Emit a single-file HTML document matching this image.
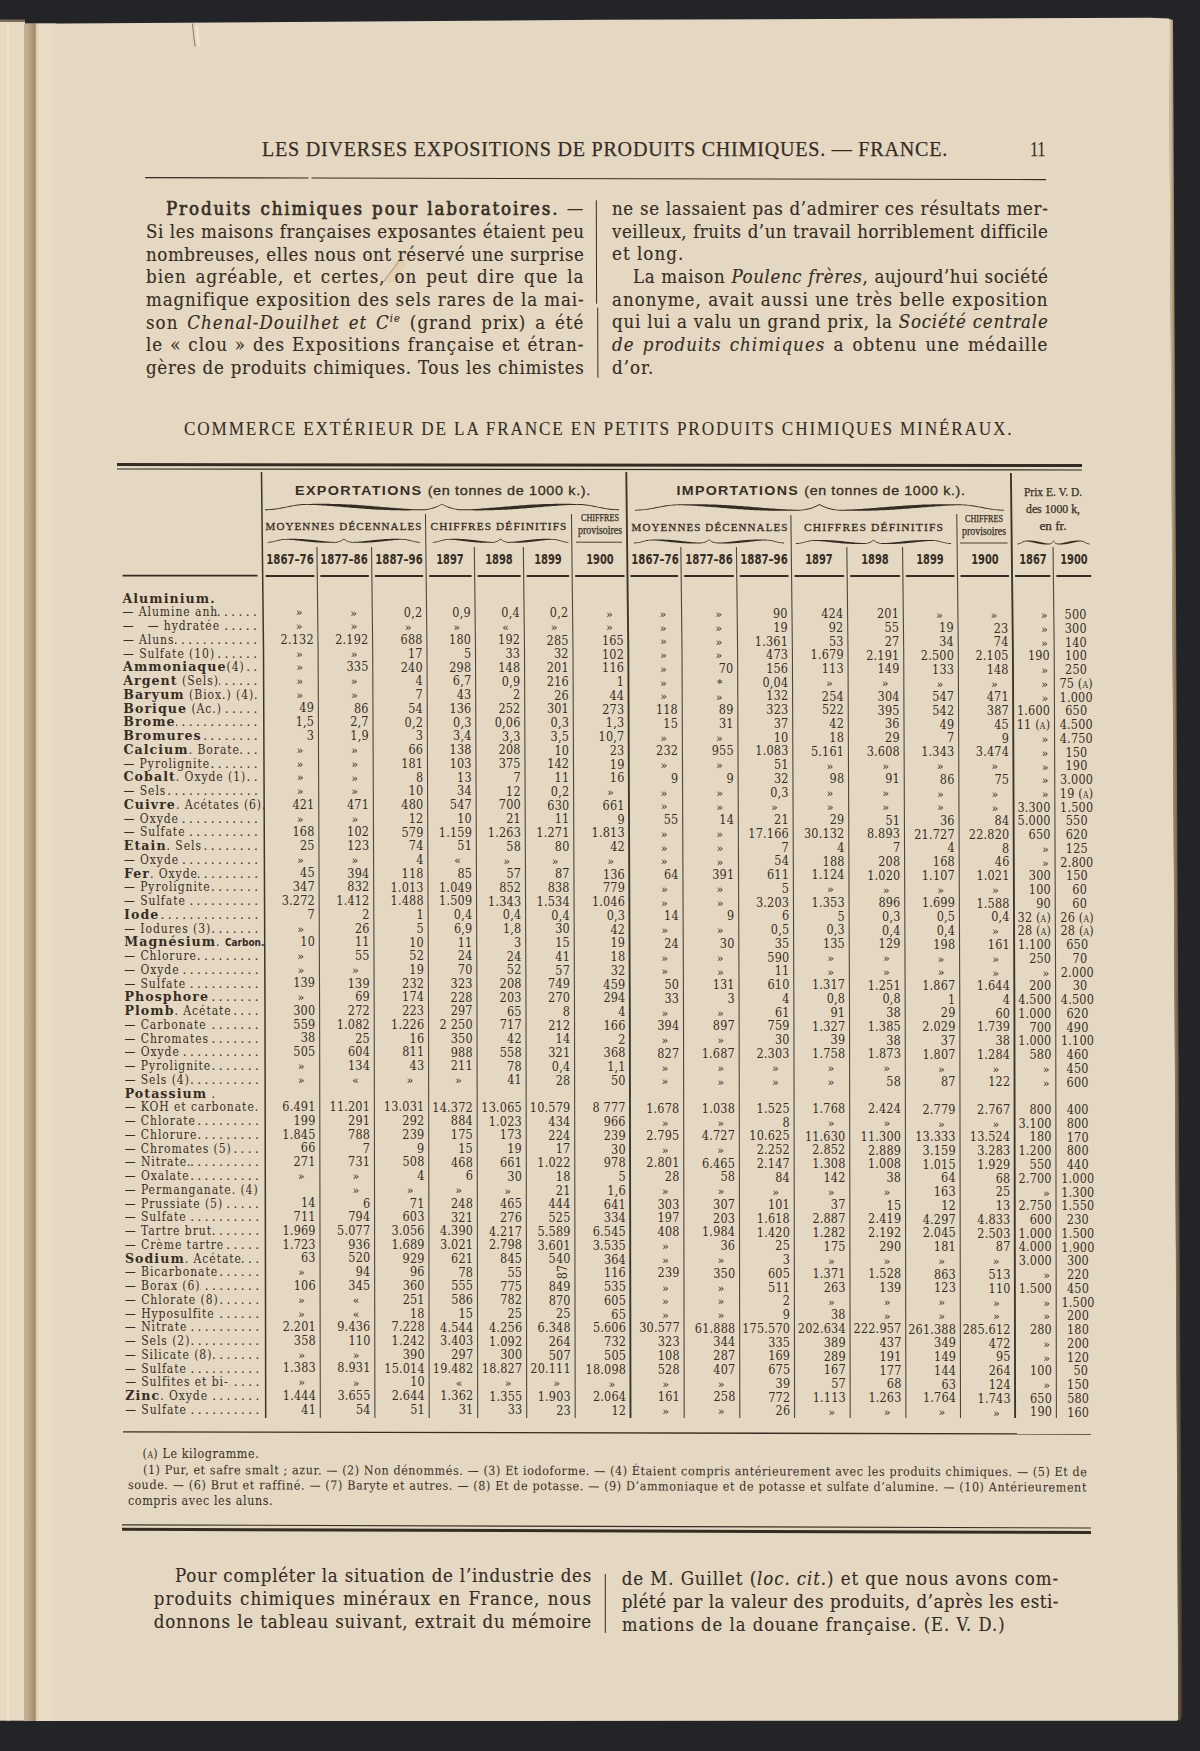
<!DOCTYPE html>
<html lang="fr"><head><meta charset="utf-8"><title>Les diverses expositions de produits chimiques — France</title>
<style>
*{margin:0;padding:0;box-sizing:border-box}
html,body{width:1200px;height:1751px;overflow:hidden;background:#24262b}
body{position:relative;color:#352d23}
div.fLS,div.fLSB,div.fDVS,div.fDVC{position:absolute;white-space:nowrap;line-height:1}
.fLS{font-family:"Liberation Serif","DejaVu Serif",serif}
.fLSB{font-family:"Liberation Sans","DejaVu Sans",sans-serif}
.fDVS{font-family:"DejaVu Serif","Liberation Serif",serif}
.fDVC{font-family:"DejaVu Sans","Liberation Sans",sans-serif;font-stretch:condensed}
.j{text-align:justify;text-align-last:justify}
.hd{-webkit-text-stroke:0.25px #352d23;letter-spacing:0.8px}
.hd2{-webkit-text-stroke:0.1px #352d23;letter-spacing:2px}
.body{font-stretch:condensed;letter-spacing:1.05px;-webkit-text-stroke:0.15px #352d23}
.pb{font-weight:normal;-webkit-text-stroke:0.65px #352d23;letter-spacing:1.9px}
i{font-style:italic}
sup{font-size:0.6em;vertical-align:0.6em;line-height:0}
.hb{font-weight:bold;letter-spacing:1.2px}
.nb{font-weight:normal;letter-spacing:0.6px;-webkit-text-stroke:0.3px #352d23}
.sc2{letter-spacing:1.1px;-webkit-text-stroke:0.3px #352d23}
.cond,.cond2{-webkit-text-stroke:0.25px #352d23}
.yr{font-weight:bold}
.num{letter-spacing:0.2px;font-stretch:condensed}
.sc{font-size:0.68em;letter-spacing:0.3px}
.lab{font-size:12px;display:flex;white-space:nowrap}
.lab .lt{flex:0 0 auto;letter-spacing:0.95px;font-stretch:condensed}
.lab b{font-weight:bold;font-size:12.6px;letter-spacing:1.05px;font-stretch:normal}
.lab .cb{font-family:"DejaVu Sans","Liberation Sans",sans-serif;font-stretch:condensed;font-weight:bold;font-size:10px;letter-spacing:0px}
.lab .ld{flex:1 1 auto;overflow:hidden;direction:rtl;text-align:right;letter-spacing:3.4px;padding-left:2px}
.fn{font-stretch:condensed;letter-spacing:0.6px}
</style></head>
<body>
<svg id="bg" width="1200" height="1751" style="position:absolute;left:0;top:0">
<defs>
<linearGradient id="gA" x1="0" x2="1" y1="0" y2="0"><stop offset="0" stop-color="#c7b394"/><stop offset="0.5" stop-color="#b8a283"/><stop offset="0.88" stop-color="#a48d6d"/><stop offset="1" stop-color="#b7a282"/></linearGradient>
<linearGradient id="gB" x1="0" x2="1" y1="0" y2="0"><stop offset="0" stop-color="#d9c7aa"/><stop offset="0.15" stop-color="#ecdcc4"/><stop offset="0.6" stop-color="#ebdcc5"/><stop offset="1" stop-color="#e5d8c2"/></linearGradient>
<linearGradient id="gR" x1="0" x2="1" y1="0" y2="0"><stop offset="0" stop-color="#ebdcc0"/><stop offset="0.35" stop-color="#a08868"/><stop offset="1" stop-color="#3a3028"/></linearGradient>
</defs>
<rect x="0" y="0" width="1200" height="1751" fill="#232428"/>
<polygon points="0,19.5 25,19.5 25,1721 0,1721" fill="#7d6b55"/>
<polygon points="0,22 25,22 25,1720.5 0,1720.5" fill="#e7d9c2"/>
<polygon points="25,23.8 600,19.8 1150,17.8 1169,18.5 1174,875 1178.5,1719.5 1177,1720.8 25,1721" fill="#e5d8c2"/>
<polygon points="1168.8,19 1173,20 1177.5,875 1182.5,1716 1180,1720.6 1178.3,1720 1173.8,875" fill="url(#gR)"/>
<rect x="24" y="23.5" width="12" height="1697.5" fill="url(#gA)"/>
<rect x="36" y="23.5" width="20" height="1697.5" fill="url(#gB)"/>
<rect x="7" y="22" width="2.5" height="1698.5" fill="#efe2cb"/>
</svg>
<svg id="rules" width="1200" height="1751" style="position:absolute;left:0;top:0"><polygon points="402.5,256.5 406,262 397.5,282.5 384,282.5" fill="#e3c6a2" fill-opacity="0.55"/><line x1="402.3" y1="256.6" x2="383.6" y2="281.6" stroke="#6e5b47" stroke-width="0.8" stroke-opacity="0.8"/><path d="M192.6,23.5 C193,30 193.5,36 195.2,46.5" fill="none" stroke="#5d4c3a" stroke-width="0.9" stroke-opacity="0.8"/><path d="M196.8,26 C197.5,33 198,40 198.8,47" fill="none" stroke="#f3eadb" stroke-width="2.2" stroke-opacity="0.8"/><line x1="145.00" y1="177.60" x2="308.50" y2="178.00" stroke="#352d23" stroke-width="1.1" stroke-opacity="1.0"/><line x1="311.50" y1="178.00" x2="1046.00" y2="179.60" stroke="#352d23" stroke-width="1.1" stroke-opacity="1.0"/><line x1="596.30" y1="200.30" x2="596.60" y2="303.70" stroke="#352d23" stroke-width="1.0" stroke-opacity="1.0"/><line x1="597.70" y1="307.70" x2="597.90" y2="377.70" stroke="#352d23" stroke-width="1.0" stroke-opacity="1.0"/><line x1="117.00" y1="464.60" x2="1082.00" y2="465.60" stroke="#352d23" stroke-width="3.0" stroke-opacity="1.0"/><line x1="117.00" y1="469.00" x2="1082.00" y2="470.00" stroke="#352d23" stroke-width="1.2" stroke-opacity="1.0"/><polyline points="261.50,472.00 263.50,650.00 265.00,1010.00 265.70,1418.00" fill="none" stroke="#352d23" stroke-width="1.5" stroke-opacity="0.95"/><polyline points="316.94,547.00 318.10,650.00 319.60,1010.00 320.30,1418.00" fill="none" stroke="#352d23" stroke-width="1.1" stroke-opacity="0.85"/><polyline points="371.54,547.00 372.70,650.00 374.20,1010.00 374.90,1418.00" fill="none" stroke="#352d23" stroke-width="1.1" stroke-opacity="0.85"/><polyline points="425.47,514.00 427.00,650.00 428.50,1010.00 429.20,1418.00" fill="none" stroke="#352d23" stroke-width="1.1" stroke-opacity="0.85"/><polyline points="474.34,547.00 475.50,650.00 477.00,1010.00 477.70,1418.00" fill="none" stroke="#352d23" stroke-width="1.1" stroke-opacity="0.85"/><polyline points="523.34,547.00 524.50,650.00 526.00,1010.00 526.70,1418.00" fill="none" stroke="#352d23" stroke-width="1.1" stroke-opacity="0.85"/><polyline points="571.47,514.00 573.00,650.00 574.50,1010.00 575.20,1418.00" fill="none" stroke="#352d23" stroke-width="1.1" stroke-opacity="0.85"/><polyline points="626.30,472.00 628.30,650.00 629.80,1010.00 630.50,1418.00" fill="none" stroke="#352d23" stroke-width="1.9" stroke-opacity="0.95"/><polyline points="680.84,547.00 682.00,650.00 683.50,1010.00 684.20,1418.00" fill="none" stroke="#352d23" stroke-width="1.1" stroke-opacity="0.85"/><polyline points="736.44,547.00 737.60,650.00 739.10,1010.00 739.80,1418.00" fill="none" stroke="#352d23" stroke-width="1.1" stroke-opacity="0.85"/><polyline points="790.88,515.00 792.40,650.00 793.90,1010.00 794.60,1418.00" fill="none" stroke="#352d23" stroke-width="1.1" stroke-opacity="0.85"/><polyline points="846.84,547.00 848.00,650.00 849.50,1010.00 850.20,1418.00" fill="none" stroke="#352d23" stroke-width="1.1" stroke-opacity="0.85"/><polyline points="902.54,547.00 903.70,650.00 905.20,1010.00 905.90,1418.00" fill="none" stroke="#352d23" stroke-width="1.1" stroke-opacity="0.85"/><polyline points="956.77,514.00 958.30,650.00 959.80,1010.00 960.50,1418.00" fill="none" stroke="#352d23" stroke-width="1.1" stroke-opacity="0.85"/><polyline points="1010.91,473.00 1012.90,650.00 1014.40,1010.00 1015.10,1418.00" fill="none" stroke="#352d23" stroke-width="1.9" stroke-opacity="0.95"/><polyline points="1053.04,547.00 1054.20,650.00 1055.70,1010.00 1056.40,1418.00" fill="none" stroke="#352d23" stroke-width="1.1" stroke-opacity="0.85"/><polygon points="265.00,509.35 267.21,509.31 269.43,509.21 271.64,509.03 273.85,508.79 276.06,508.50 278.27,508.15 280.49,507.76 282.70,507.35 284.91,506.91 287.12,506.47 289.34,506.04 291.55,505.62 293.76,505.22 295.98,504.87 298.19,504.56 300.40,504.31 302.61,504.12 304.82,504.00 307.04,503.95 309.25,503.93 311.46,503.90 313.68,503.87 315.89,503.84 318.10,503.83 320.31,503.81 322.52,503.81 324.74,503.82 326.95,503.83 329.16,503.85 331.38,503.88 333.59,503.92 335.80,503.98 338.01,504.04 340.23,504.11 342.44,504.19 344.65,504.28 346.86,504.38 349.07,504.49 351.29,504.61 353.50,504.73 355.71,504.87 357.93,505.01 360.14,505.16 362.35,505.32 364.56,505.48 366.77,505.65 368.99,505.83 371.20,506.01 373.41,506.19 375.62,506.38 377.84,506.56 380.05,506.75 382.26,506.94 384.48,507.13 386.69,507.32 388.90,507.50 391.11,507.69 393.32,507.87 395.54,508.04 397.75,508.21 399.96,508.37 402.18,508.52 404.39,508.67 406.60,508.80 408.81,508.92 411.02,509.04 413.24,509.14 415.45,509.22 417.66,509.29 419.88,509.34 422.09,509.34 424.30,509.24 426.51,509.03 428.73,508.69 430.94,508.22 433.15,507.61 435.36,506.85 437.57,505.94 439.79,504.88 442.00,503.65 444.21,504.88 446.42,505.94 448.64,506.85 450.85,507.61 453.06,508.22 455.27,508.69 457.49,509.03 459.70,509.24 461.91,509.34 464.12,509.34 466.34,509.29 468.55,509.22 470.76,509.14 472.98,509.04 475.19,508.92 477.40,508.80 479.61,508.67 481.83,508.52 484.04,508.37 486.25,508.21 488.46,508.04 490.67,507.87 492.89,507.69 495.10,507.50 497.31,507.32 499.52,507.13 501.74,506.94 503.95,506.75 506.16,506.56 508.38,506.38 510.59,506.19 512.80,506.01 515.01,505.83 517.23,505.65 519.44,505.48 521.65,505.32 523.86,505.16 526.08,505.01 528.29,504.87 530.50,504.73 532.71,504.61 534.92,504.49 537.14,504.38 539.35,504.28 541.56,504.19 543.77,504.11 545.99,504.04 548.20,503.98 550.41,503.92 552.62,503.88 554.84,503.85 557.05,503.83 559.26,503.82 561.48,503.81 563.69,503.81 565.90,503.83 568.11,503.84 570.33,503.87 572.54,503.90 574.75,503.93 576.96,503.95 579.17,504.00 581.39,504.12 583.60,504.31 585.81,504.56 588.02,504.87 590.24,505.22 592.45,505.62 594.66,506.04 596.88,506.47 599.09,506.91 601.30,507.35 603.51,507.76 605.73,508.15 607.94,508.50 610.15,508.79 612.36,509.03 614.58,509.21 616.79,509.31 619.00,509.35 619.00,510.25 616.79,510.21 614.58,510.11 612.36,509.93 610.15,509.69 607.94,509.40 605.73,509.05 603.51,508.66 601.30,508.25 599.09,507.81 596.88,507.37 594.66,506.94 592.45,506.52 590.24,506.12 588.02,505.77 585.81,505.46 583.60,505.21 581.39,505.02 579.17,504.90 576.96,504.85 574.75,504.88 572.54,504.93 570.33,505.01 568.11,505.10 565.90,505.21 563.69,505.32 561.48,505.45 559.26,505.59 557.05,505.74 554.84,505.90 552.62,506.06 550.41,506.23 548.20,506.41 545.99,506.59 543.77,506.77 541.56,506.96 539.35,507.14 537.14,507.33 534.92,507.52 532.71,507.71 530.50,507.90 528.29,508.08 526.08,508.27 523.86,508.44 521.65,508.62 519.44,508.78 517.23,508.94 515.01,509.10 512.80,509.25 510.59,509.39 508.38,509.52 506.16,509.64 503.95,509.76 501.74,509.86 499.52,509.96 497.31,510.04 495.10,510.12 492.89,510.19 490.67,510.25 488.46,510.29 486.25,510.33 484.04,510.36 481.83,510.38 479.61,510.39 477.40,510.39 475.19,510.38 472.98,510.37 470.76,510.35 468.55,510.32 466.34,510.29 464.12,510.26 461.91,510.24 459.70,510.14 457.49,509.93 455.27,509.59 453.06,509.12 450.85,508.51 448.64,507.75 446.42,506.84 444.21,505.78 442.00,504.55 439.79,505.78 437.57,506.84 435.36,507.75 433.15,508.51 430.94,509.12 428.73,509.59 426.51,509.93 424.30,510.14 422.09,510.24 419.88,510.26 417.66,510.29 415.45,510.32 413.24,510.35 411.02,510.37 408.81,510.38 406.60,510.39 404.39,510.39 402.18,510.38 399.96,510.36 397.75,510.33 395.54,510.29 393.32,510.25 391.11,510.19 388.90,510.12 386.69,510.04 384.48,509.96 382.26,509.86 380.05,509.76 377.84,509.64 375.62,509.52 373.41,509.39 371.20,509.25 368.99,509.10 366.77,508.94 364.56,508.78 362.35,508.62 360.14,508.44 357.93,508.27 355.71,508.08 353.50,507.90 351.29,507.71 349.07,507.52 346.86,507.33 344.65,507.14 342.44,506.96 340.23,506.77 338.01,506.59 335.80,506.41 333.59,506.23 331.38,506.06 329.16,505.90 326.95,505.74 324.74,505.59 322.52,505.45 320.31,505.32 318.10,505.21 315.89,505.10 313.68,505.01 311.46,504.93 309.25,504.88 307.04,504.85 304.82,504.90 302.61,505.02 300.40,505.21 298.19,505.46 295.98,505.77 293.76,506.12 291.55,506.52 289.34,506.94 287.12,507.37 284.91,507.81 282.70,508.25 280.49,508.66 278.27,509.05 276.06,509.40 273.85,509.69 271.64,509.93 269.43,510.11 267.21,510.21 265.00,510.25" fill="#352d23"/><polygon points="635.00,509.75 637.31,509.71 639.61,509.61 641.92,509.43 644.23,509.19 646.53,508.90 648.84,508.55 651.14,508.16 653.45,507.75 655.76,507.31 658.06,506.87 660.37,506.44 662.67,506.02 664.98,505.62 667.29,505.27 669.59,504.96 671.90,504.71 674.21,504.52 676.51,504.40 678.82,504.35 681.12,504.33 683.43,504.30 685.74,504.27 688.04,504.24 690.35,504.23 692.66,504.21 694.96,504.21 697.27,504.22 699.58,504.23 701.88,504.25 704.19,504.28 706.49,504.32 708.80,504.38 711.11,504.44 713.41,504.51 715.72,504.59 718.02,504.68 720.33,504.78 722.64,504.89 724.94,505.01 727.25,505.13 729.56,505.27 731.86,505.41 734.17,505.56 736.48,505.72 738.78,505.88 741.09,506.05 743.39,506.23 745.70,506.41 748.01,506.59 750.31,506.78 752.62,506.96 754.92,507.15 757.23,507.34 759.54,507.53 761.84,507.72 764.15,507.90 766.46,508.09 768.76,508.27 771.07,508.44 773.38,508.61 775.68,508.77 777.99,508.92 780.29,509.07 782.60,509.20 784.91,509.32 787.21,509.44 789.52,509.54 791.83,509.62 794.13,509.69 796.44,509.74 798.74,509.74 801.05,509.64 803.36,509.43 805.66,509.09 807.97,508.62 810.27,508.01 812.58,507.25 814.89,506.34 817.19,505.28 819.50,504.05 821.81,505.28 824.11,506.34 826.42,507.25 828.73,508.01 831.03,508.62 833.34,509.09 835.64,509.43 837.95,509.64 840.26,509.74 842.56,509.74 844.87,509.69 847.17,509.62 849.48,509.54 851.79,509.44 854.09,509.32 856.40,509.20 858.71,509.07 861.01,508.92 863.32,508.77 865.62,508.61 867.93,508.44 870.24,508.27 872.54,508.09 874.85,507.90 877.16,507.72 879.46,507.53 881.77,507.34 884.08,507.15 886.38,506.96 888.69,506.78 890.99,506.59 893.30,506.41 895.61,506.23 897.91,506.05 900.22,505.88 902.52,505.72 904.83,505.56 907.14,505.41 909.44,505.27 911.75,505.13 914.06,505.01 916.36,504.89 918.67,504.78 920.98,504.68 923.28,504.59 925.59,504.51 927.89,504.44 930.20,504.38 932.51,504.32 934.81,504.28 937.12,504.25 939.42,504.23 941.73,504.22 944.04,504.21 946.34,504.21 948.65,504.23 950.96,504.24 953.26,504.27 955.57,504.30 957.88,504.33 960.18,504.35 962.49,504.40 964.79,504.52 967.10,504.71 969.41,504.96 971.71,505.27 974.02,505.62 976.33,506.02 978.63,506.44 980.94,506.87 983.24,507.31 985.55,507.75 987.86,508.16 990.16,508.55 992.47,508.90 994.77,509.19 997.08,509.43 999.39,509.61 1001.69,509.71 1004.00,509.75 1004.00,510.65 1001.69,510.61 999.39,510.51 997.08,510.33 994.77,510.09 992.47,509.80 990.16,509.45 987.86,509.06 985.55,508.65 983.24,508.21 980.94,507.77 978.63,507.34 976.33,506.92 974.02,506.52 971.71,506.17 969.41,505.86 967.10,505.61 964.79,505.42 962.49,505.30 960.18,505.25 957.88,505.28 955.57,505.33 953.26,505.41 950.96,505.50 948.65,505.61 946.34,505.72 944.04,505.85 941.73,505.99 939.42,506.14 937.12,506.30 934.81,506.46 932.51,506.63 930.20,506.81 927.89,506.99 925.59,507.17 923.28,507.36 920.98,507.54 918.67,507.73 916.36,507.92 914.06,508.11 911.75,508.30 909.44,508.48 907.14,508.67 904.83,508.84 902.52,509.02 900.22,509.18 897.91,509.34 895.61,509.50 893.30,509.65 890.99,509.79 888.69,509.92 886.38,510.04 884.08,510.16 881.77,510.26 879.46,510.36 877.16,510.44 874.85,510.52 872.54,510.59 870.24,510.65 867.93,510.69 865.62,510.73 863.32,510.76 861.01,510.78 858.71,510.79 856.40,510.79 854.09,510.78 851.79,510.77 849.48,510.75 847.17,510.72 844.87,510.69 842.56,510.66 840.26,510.64 837.95,510.54 835.64,510.33 833.34,509.99 831.03,509.52 828.73,508.91 826.42,508.15 824.11,507.24 821.81,506.18 819.50,504.95 817.19,506.18 814.89,507.24 812.58,508.15 810.27,508.91 807.97,509.52 805.66,509.99 803.36,510.33 801.05,510.54 798.74,510.64 796.44,510.66 794.13,510.69 791.83,510.72 789.52,510.75 787.21,510.77 784.91,510.78 782.60,510.79 780.29,510.79 777.99,510.78 775.68,510.76 773.38,510.73 771.07,510.69 768.76,510.65 766.46,510.59 764.15,510.52 761.84,510.44 759.54,510.36 757.23,510.26 754.92,510.16 752.62,510.04 750.31,509.92 748.01,509.79 745.70,509.65 743.39,509.50 741.09,509.34 738.78,509.18 736.48,509.02 734.17,508.84 731.86,508.67 729.56,508.48 727.25,508.30 724.94,508.11 722.64,507.92 720.33,507.73 718.02,507.54 715.72,507.36 713.41,507.17 711.11,506.99 708.80,506.81 706.49,506.63 704.19,506.46 701.88,506.30 699.58,506.14 697.27,505.99 694.96,505.85 692.66,505.72 690.35,505.61 688.04,505.50 685.74,505.41 683.43,505.33 681.12,505.28 678.82,505.25 676.51,505.30 674.21,505.42 671.90,505.61 669.59,505.86 667.29,506.17 664.98,506.52 662.67,506.92 660.37,507.34 658.06,507.77 655.76,508.21 653.45,508.65 651.14,509.06 648.84,509.45 646.53,509.80 644.23,510.09 641.92,510.33 639.61,510.51 637.31,510.61 635.00,510.65" fill="#352d23"/><line x1="576.00" y1="542.20" x2="622.00" y2="542.20" stroke="#352d23" stroke-width="0.9" stroke-opacity="1.0"/><line x1="960.00" y1="543.00" x2="1007.50" y2="543.00" stroke="#352d23" stroke-width="0.9" stroke-opacity="1.0"/><polygon points="267.60,541.90 268.55,541.88 269.51,541.82 270.46,541.72 271.42,541.59 272.37,541.43 273.32,541.23 274.28,541.02 275.23,540.79 276.18,540.55 277.14,540.30 278.09,540.06 279.05,539.83 280.00,539.61 280.95,539.41 281.91,539.24 282.86,539.10 283.81,539.00 284.77,538.93 285.72,538.90 286.68,538.89 287.63,538.87 288.58,538.85 289.54,538.84 290.49,538.82 291.44,538.82 292.40,538.81 293.35,538.81 294.31,538.82 295.26,538.83 296.21,538.85 297.17,538.87 298.12,538.89 299.07,538.93 300.03,538.96 300.98,539.01 301.94,539.06 302.89,539.11 303.84,539.17 304.80,539.23 305.75,539.30 306.70,539.38 307.66,539.46 308.61,539.54 309.56,539.63 310.52,539.72 311.47,539.81 312.43,539.91 313.38,540.01 314.33,540.11 315.29,540.22 316.24,540.32 317.19,540.43 318.15,540.53 319.10,540.64 320.06,540.75 321.01,540.85 321.96,540.95 322.92,541.05 323.87,541.15 324.82,541.25 325.78,541.34 326.73,541.43 327.69,541.51 328.64,541.59 329.59,541.66 330.55,541.72 331.50,541.78 332.46,541.83 333.41,541.87 334.36,541.89 335.32,541.89 336.27,541.84 337.22,541.71 338.18,541.52 339.13,541.25 340.09,540.89 341.04,540.45 341.99,539.93 342.95,539.31 343.90,538.60 344.85,539.31 345.81,539.93 346.76,540.45 347.72,540.89 348.67,541.25 349.62,541.52 350.58,541.71 351.53,541.84 352.48,541.89 353.44,541.89 354.39,541.87 355.35,541.83 356.30,541.78 357.25,541.72 358.21,541.66 359.16,541.59 360.11,541.51 361.07,541.43 362.02,541.34 362.98,541.25 363.93,541.15 364.88,541.05 365.84,540.95 366.79,540.85 367.74,540.75 368.70,540.64 369.65,540.53 370.61,540.43 371.56,540.32 372.51,540.22 373.47,540.11 374.42,540.01 375.37,539.91 376.33,539.81 377.28,539.72 378.24,539.63 379.19,539.54 380.14,539.46 381.10,539.38 382.05,539.30 383.00,539.23 383.96,539.17 384.91,539.11 385.87,539.06 386.82,539.01 387.77,538.96 388.73,538.93 389.68,538.89 390.63,538.87 391.59,538.85 392.54,538.83 393.50,538.82 394.45,538.81 395.40,538.81 396.36,538.82 397.31,538.82 398.26,538.84 399.22,538.85 400.17,538.87 401.12,538.89 402.08,538.90 403.03,538.93 403.99,539.00 404.94,539.10 405.89,539.24 406.85,539.41 407.80,539.61 408.75,539.83 409.71,540.06 410.66,540.30 411.62,540.55 412.57,540.79 413.52,541.02 414.48,541.23 415.43,541.43 416.38,541.59 417.34,541.72 418.29,541.82 419.25,541.88 420.20,541.90 420.20,542.70 419.25,542.68 418.29,542.62 417.34,542.52 416.38,542.39 415.43,542.23 414.48,542.03 413.52,541.82 412.57,541.59 411.62,541.35 410.66,541.10 409.71,540.86 408.75,540.63 407.80,540.41 406.85,540.21 405.89,540.04 404.94,539.90 403.99,539.80 403.03,539.73 402.08,539.70 401.12,539.72 400.17,539.75 399.22,539.79 398.26,539.84 397.31,539.90 396.36,539.97 395.40,540.05 394.45,540.12 393.50,540.21 392.54,540.30 391.59,540.39 390.63,540.49 389.68,540.59 388.73,540.69 387.77,540.79 386.82,540.90 385.87,541.00 384.91,541.11 383.96,541.22 383.00,541.32 382.05,541.43 381.10,541.53 380.14,541.63 379.19,541.73 378.24,541.83 377.28,541.92 376.33,542.01 375.37,542.09 374.42,542.18 373.47,542.25 372.51,542.32 371.56,542.39 370.61,542.46 369.65,542.51 368.70,542.56 367.74,542.61 366.79,542.65 365.84,542.69 364.88,542.72 363.93,542.74 362.98,542.76 362.02,542.78 361.07,542.78 360.11,542.79 359.16,542.79 358.21,542.78 357.25,542.77 356.30,542.76 355.35,542.74 354.39,542.72 353.44,542.71 352.48,542.69 351.53,542.64 350.58,542.51 349.62,542.32 348.67,542.05 347.72,541.69 346.76,541.25 345.81,540.73 344.85,540.11 343.90,539.40 342.95,540.11 341.99,540.73 341.04,541.25 340.09,541.69 339.13,542.05 338.18,542.32 337.22,542.51 336.27,542.64 335.32,542.69 334.36,542.71 333.41,542.72 332.46,542.74 331.50,542.76 330.55,542.77 329.59,542.78 328.64,542.79 327.69,542.79 326.73,542.78 325.78,542.78 324.82,542.76 323.87,542.74 322.92,542.72 321.96,542.69 321.01,542.65 320.06,542.61 319.10,542.56 318.15,542.51 317.19,542.46 316.24,542.39 315.29,542.32 314.33,542.25 313.38,542.18 312.43,542.09 311.47,542.01 310.52,541.92 309.56,541.83 308.61,541.73 307.66,541.63 306.70,541.53 305.75,541.43 304.80,541.32 303.84,541.22 302.89,541.11 301.94,541.00 300.98,540.90 300.03,540.79 299.07,540.69 298.12,540.59 297.17,540.49 296.21,540.39 295.26,540.30 294.31,540.21 293.35,540.12 292.40,540.05 291.44,539.97 290.49,539.90 289.54,539.84 288.58,539.79 287.63,539.75 286.68,539.72 285.72,539.70 284.77,539.73 283.81,539.80 282.86,539.90 281.91,540.04 280.95,540.21 280.00,540.41 279.05,540.63 278.09,540.86 277.14,541.10 276.18,541.35 275.23,541.59 274.28,541.82 273.32,542.03 272.37,542.23 271.42,542.39 270.46,542.52 269.51,542.62 268.55,542.68 267.60,542.70" fill="#352d23"/><polygon points="432.70,541.90 433.55,541.88 434.40,541.82 435.24,541.72 436.09,541.59 436.94,541.43 437.79,541.23 438.64,541.02 439.49,540.79 440.33,540.55 441.18,540.30 442.03,540.06 442.88,539.83 443.73,539.61 444.57,539.41 445.42,539.24 446.27,539.10 447.12,539.00 447.97,538.93 448.81,538.90 449.66,538.89 450.51,538.87 451.36,538.85 452.21,538.84 453.06,538.82 453.90,538.82 454.75,538.81 455.60,538.81 456.45,538.82 457.30,538.83 458.14,538.85 458.99,538.87 459.84,538.89 460.69,538.93 461.54,538.96 462.38,539.01 463.23,539.06 464.08,539.11 464.93,539.17 465.78,539.23 466.62,539.30 467.47,539.38 468.32,539.46 469.17,539.54 470.02,539.63 470.87,539.72 471.71,539.81 472.56,539.91 473.41,540.01 474.26,540.11 475.11,540.22 475.95,540.32 476.80,540.43 477.65,540.53 478.50,540.64 479.35,540.75 480.19,540.85 481.04,540.95 481.89,541.05 482.74,541.15 483.59,541.25 484.44,541.34 485.28,541.43 486.13,541.51 486.98,541.59 487.83,541.66 488.68,541.72 489.52,541.78 490.37,541.83 491.22,541.87 492.07,541.89 492.92,541.89 493.76,541.84 494.61,541.71 495.46,541.52 496.31,541.25 497.16,540.89 498.01,540.45 498.85,539.93 499.70,539.31 500.55,538.60 501.40,539.31 502.25,539.93 503.09,540.45 503.94,540.89 504.79,541.25 505.64,541.52 506.49,541.71 507.33,541.84 508.18,541.89 509.03,541.89 509.88,541.87 510.73,541.83 511.58,541.78 512.42,541.72 513.27,541.66 514.12,541.59 514.97,541.51 515.82,541.43 516.66,541.34 517.51,541.25 518.36,541.15 519.21,541.05 520.06,540.95 520.90,540.85 521.75,540.75 522.60,540.64 523.45,540.53 524.30,540.43 525.15,540.32 525.99,540.22 526.84,540.11 527.69,540.01 528.54,539.91 529.39,539.81 530.23,539.72 531.08,539.63 531.93,539.54 532.78,539.46 533.63,539.38 534.48,539.30 535.32,539.23 536.17,539.17 537.02,539.11 537.87,539.06 538.72,539.01 539.56,538.96 540.41,538.93 541.26,538.89 542.11,538.87 542.96,538.85 543.80,538.83 544.65,538.82 545.50,538.81 546.35,538.81 547.20,538.82 548.04,538.82 548.89,538.84 549.74,538.85 550.59,538.87 551.44,538.89 552.29,538.90 553.13,538.93 553.98,539.00 554.83,539.10 555.68,539.24 556.53,539.41 557.37,539.61 558.22,539.83 559.07,540.06 559.92,540.30 560.77,540.55 561.62,540.79 562.46,541.02 563.31,541.23 564.16,541.43 565.01,541.59 565.86,541.72 566.70,541.82 567.55,541.88 568.40,541.90 568.40,542.70 567.55,542.68 566.70,542.62 565.86,542.52 565.01,542.39 564.16,542.23 563.31,542.03 562.46,541.82 561.62,541.59 560.77,541.35 559.92,541.10 559.07,540.86 558.22,540.63 557.37,540.41 556.53,540.21 555.68,540.04 554.83,539.90 553.98,539.80 553.13,539.73 552.29,539.70 551.44,539.72 550.59,539.75 549.74,539.79 548.89,539.84 548.04,539.90 547.20,539.97 546.35,540.05 545.50,540.12 544.65,540.21 543.80,540.30 542.96,540.39 542.11,540.49 541.26,540.59 540.41,540.69 539.56,540.79 538.72,540.90 537.87,541.00 537.02,541.11 536.17,541.22 535.32,541.32 534.48,541.43 533.63,541.53 532.78,541.63 531.93,541.73 531.08,541.83 530.23,541.92 529.39,542.01 528.54,542.09 527.69,542.18 526.84,542.25 525.99,542.32 525.15,542.39 524.30,542.46 523.45,542.51 522.60,542.56 521.75,542.61 520.90,542.65 520.06,542.69 519.21,542.72 518.36,542.74 517.51,542.76 516.66,542.78 515.82,542.78 514.97,542.79 514.12,542.79 513.27,542.78 512.42,542.77 511.58,542.76 510.73,542.74 509.88,542.72 509.03,542.71 508.18,542.69 507.33,542.64 506.49,542.51 505.64,542.32 504.79,542.05 503.94,541.69 503.09,541.25 502.25,540.73 501.40,540.11 500.55,539.40 499.70,540.11 498.85,540.73 498.01,541.25 497.16,541.69 496.31,542.05 495.46,542.32 494.61,542.51 493.76,542.64 492.92,542.69 492.07,542.71 491.22,542.72 490.37,542.74 489.52,542.76 488.68,542.77 487.83,542.78 486.98,542.79 486.13,542.79 485.28,542.78 484.44,542.78 483.59,542.76 482.74,542.74 481.89,542.72 481.04,542.69 480.19,542.65 479.35,542.61 478.50,542.56 477.65,542.51 476.80,542.46 475.95,542.39 475.11,542.32 474.26,542.25 473.41,542.18 472.56,542.09 471.71,542.01 470.87,541.92 470.02,541.83 469.17,541.73 468.32,541.63 467.47,541.53 466.62,541.43 465.78,541.32 464.93,541.22 464.08,541.11 463.23,541.00 462.38,540.90 461.54,540.79 460.69,540.69 459.84,540.59 458.99,540.49 458.14,540.39 457.30,540.30 456.45,540.21 455.60,540.12 454.75,540.05 453.90,539.97 453.06,539.90 452.21,539.84 451.36,539.79 450.51,539.75 449.66,539.72 448.81,539.70 447.97,539.73 447.12,539.80 446.27,539.90 445.42,540.04 444.57,540.21 443.73,540.41 442.88,540.63 442.03,540.86 441.18,541.10 440.33,541.35 439.49,541.59 438.64,541.82 437.79,542.03 436.94,542.23 436.09,542.39 435.24,542.52 434.40,542.62 433.55,542.68 432.70,542.70" fill="#352d23"/><polygon points="634.00,542.60 634.94,542.58 635.88,542.52 636.81,542.42 637.75,542.29 638.69,542.13 639.62,541.93 640.56,541.72 641.50,541.49 642.44,541.25 643.38,541.00 644.31,540.76 645.25,540.53 646.19,540.31 647.12,540.11 648.06,539.94 649.00,539.80 649.94,539.70 650.88,539.63 651.81,539.60 652.75,539.59 653.69,539.57 654.62,539.55 655.56,539.54 656.50,539.52 657.44,539.52 658.38,539.51 659.31,539.51 660.25,539.52 661.19,539.53 662.12,539.55 663.06,539.57 664.00,539.59 664.94,539.63 665.88,539.66 666.81,539.71 667.75,539.76 668.69,539.81 669.62,539.87 670.56,539.93 671.50,540.00 672.44,540.08 673.38,540.16 674.31,540.24 675.25,540.33 676.19,540.42 677.12,540.51 678.06,540.61 679.00,540.71 679.94,540.81 680.88,540.92 681.81,541.02 682.75,541.13 683.69,541.23 684.62,541.34 685.56,541.45 686.50,541.55 687.44,541.65 688.38,541.75 689.31,541.85 690.25,541.95 691.19,542.04 692.12,542.13 693.06,542.21 694.00,542.29 694.94,542.36 695.88,542.42 696.81,542.48 697.75,542.53 698.69,542.57 699.62,542.59 700.56,542.59 701.50,542.54 702.44,542.41 703.38,542.22 704.31,541.95 705.25,541.59 706.19,541.15 707.12,540.63 708.06,540.01 709.00,539.30 709.94,540.01 710.88,540.63 711.81,541.15 712.75,541.59 713.69,541.95 714.62,542.22 715.56,542.41 716.50,542.54 717.44,542.59 718.38,542.59 719.31,542.57 720.25,542.53 721.19,542.48 722.12,542.42 723.06,542.36 724.00,542.29 724.94,542.21 725.88,542.13 726.81,542.04 727.75,541.95 728.69,541.85 729.62,541.75 730.56,541.65 731.50,541.55 732.44,541.45 733.38,541.34 734.31,541.23 735.25,541.13 736.19,541.02 737.12,540.92 738.06,540.81 739.00,540.71 739.94,540.61 740.88,540.51 741.81,540.42 742.75,540.33 743.69,540.24 744.62,540.16 745.56,540.08 746.50,540.00 747.44,539.93 748.38,539.87 749.31,539.81 750.25,539.76 751.19,539.71 752.12,539.66 753.06,539.63 754.00,539.59 754.94,539.57 755.88,539.55 756.81,539.53 757.75,539.52 758.69,539.51 759.62,539.51 760.56,539.52 761.50,539.52 762.44,539.54 763.38,539.55 764.31,539.57 765.25,539.59 766.19,539.60 767.12,539.63 768.06,539.70 769.00,539.80 769.94,539.94 770.88,540.11 771.81,540.31 772.75,540.53 773.69,540.76 774.62,541.00 775.56,541.25 776.50,541.49 777.44,541.72 778.38,541.93 779.31,542.13 780.25,542.29 781.19,542.42 782.12,542.52 783.06,542.58 784.00,542.60 784.00,543.40 783.06,543.38 782.12,543.32 781.19,543.22 780.25,543.09 779.31,542.93 778.38,542.73 777.44,542.52 776.50,542.29 775.56,542.05 774.62,541.80 773.69,541.56 772.75,541.33 771.81,541.11 770.88,540.91 769.94,540.74 769.00,540.60 768.06,540.50 767.12,540.43 766.19,540.40 765.25,540.42 764.31,540.45 763.38,540.49 762.44,540.54 761.50,540.60 760.56,540.67 759.62,540.75 758.69,540.82 757.75,540.91 756.81,541.00 755.88,541.09 754.94,541.19 754.00,541.29 753.06,541.39 752.12,541.49 751.19,541.60 750.25,541.70 749.31,541.81 748.38,541.92 747.44,542.02 746.50,542.13 745.56,542.23 744.62,542.33 743.69,542.43 742.75,542.53 741.81,542.62 740.88,542.71 739.94,542.79 739.00,542.88 738.06,542.95 737.12,543.02 736.19,543.09 735.25,543.16 734.31,543.21 733.38,543.26 732.44,543.31 731.50,543.35 730.56,543.39 729.62,543.42 728.69,543.44 727.75,543.46 726.81,543.48 725.88,543.48 724.94,543.49 724.00,543.49 723.06,543.48 722.12,543.47 721.19,543.46 720.25,543.44 719.31,543.42 718.38,543.41 717.44,543.39 716.50,543.34 715.56,543.21 714.62,543.02 713.69,542.75 712.75,542.39 711.81,541.95 710.88,541.43 709.94,540.81 709.00,540.10 708.06,540.81 707.12,541.43 706.19,541.95 705.25,542.39 704.31,542.75 703.38,543.02 702.44,543.21 701.50,543.34 700.56,543.39 699.62,543.41 698.69,543.42 697.75,543.44 696.81,543.46 695.88,543.47 694.94,543.48 694.00,543.49 693.06,543.49 692.12,543.48 691.19,543.48 690.25,543.46 689.31,543.44 688.38,543.42 687.44,543.39 686.50,543.35 685.56,543.31 684.62,543.26 683.69,543.21 682.75,543.16 681.81,543.09 680.88,543.02 679.94,542.95 679.00,542.88 678.06,542.79 677.12,542.71 676.19,542.62 675.25,542.53 674.31,542.43 673.38,542.33 672.44,542.23 671.50,542.13 670.56,542.02 669.62,541.92 668.69,541.81 667.75,541.70 666.81,541.60 665.88,541.49 664.94,541.39 664.00,541.29 663.06,541.19 662.12,541.09 661.19,541.00 660.25,540.91 659.31,540.82 658.38,540.75 657.44,540.67 656.50,540.60 655.56,540.54 654.62,540.49 653.69,540.45 652.75,540.42 651.81,540.40 650.88,540.43 649.94,540.50 649.00,540.60 648.06,540.74 647.12,540.91 646.19,541.11 645.25,541.33 644.31,541.56 643.38,541.80 642.44,542.05 641.50,542.29 640.56,542.52 639.62,542.73 638.69,542.93 637.75,543.09 636.81,543.22 635.88,543.32 634.94,543.38 634.00,543.40" fill="#352d23"/><polygon points="796.00,543.10 796.97,543.08 797.94,543.02 798.91,542.92 799.88,542.79 800.84,542.63 801.81,542.43 802.78,542.22 803.75,541.99 804.72,541.75 805.69,541.50 806.66,541.26 807.62,541.03 808.59,540.81 809.56,540.61 810.53,540.44 811.50,540.30 812.47,540.20 813.44,540.13 814.41,540.10 815.38,540.09 816.34,540.07 817.31,540.05 818.28,540.04 819.25,540.02 820.22,540.02 821.19,540.01 822.16,540.01 823.12,540.02 824.09,540.03 825.06,540.05 826.03,540.07 827.00,540.09 827.97,540.13 828.94,540.16 829.91,540.21 830.88,540.26 831.84,540.31 832.81,540.37 833.78,540.43 834.75,540.50 835.72,540.58 836.69,540.66 837.66,540.74 838.62,540.83 839.59,540.92 840.56,541.01 841.53,541.11 842.50,541.21 843.47,541.31 844.44,541.42 845.41,541.52 846.38,541.63 847.34,541.73 848.31,541.84 849.28,541.95 850.25,542.05 851.22,542.15 852.19,542.25 853.16,542.35 854.12,542.45 855.09,542.54 856.06,542.63 857.03,542.71 858.00,542.79 858.97,542.86 859.94,542.92 860.91,542.98 861.88,543.03 862.84,543.07 863.81,543.09 864.78,543.09 865.75,543.04 866.72,542.91 867.69,542.72 868.66,542.45 869.62,542.09 870.59,541.65 871.56,541.13 872.53,540.51 873.50,539.80 874.47,540.51 875.44,541.13 876.41,541.65 877.38,542.09 878.34,542.45 879.31,542.72 880.28,542.91 881.25,543.04 882.22,543.09 883.19,543.09 884.16,543.07 885.12,543.03 886.09,542.98 887.06,542.92 888.03,542.86 889.00,542.79 889.97,542.71 890.94,542.63 891.91,542.54 892.88,542.45 893.84,542.35 894.81,542.25 895.78,542.15 896.75,542.05 897.72,541.95 898.69,541.84 899.66,541.73 900.62,541.63 901.59,541.52 902.56,541.42 903.53,541.31 904.50,541.21 905.47,541.11 906.44,541.01 907.41,540.92 908.38,540.83 909.34,540.74 910.31,540.66 911.28,540.58 912.25,540.50 913.22,540.43 914.19,540.37 915.16,540.31 916.12,540.26 917.09,540.21 918.06,540.16 919.03,540.13 920.00,540.09 920.97,540.07 921.94,540.05 922.91,540.03 923.88,540.02 924.84,540.01 925.81,540.01 926.78,540.02 927.75,540.02 928.72,540.04 929.69,540.05 930.66,540.07 931.62,540.09 932.59,540.10 933.56,540.13 934.53,540.20 935.50,540.30 936.47,540.44 937.44,540.61 938.41,540.81 939.38,541.03 940.34,541.26 941.31,541.50 942.28,541.75 943.25,541.99 944.22,542.22 945.19,542.43 946.16,542.63 947.12,542.79 948.09,542.92 949.06,543.02 950.03,543.08 951.00,543.10 951.00,543.90 950.03,543.88 949.06,543.82 948.09,543.72 947.12,543.59 946.16,543.43 945.19,543.23 944.22,543.02 943.25,542.79 942.28,542.55 941.31,542.30 940.34,542.06 939.38,541.83 938.41,541.61 937.44,541.41 936.47,541.24 935.50,541.10 934.53,541.00 933.56,540.93 932.59,540.90 931.62,540.92 930.66,540.95 929.69,540.99 928.72,541.04 927.75,541.10 926.78,541.17 925.81,541.25 924.84,541.32 923.88,541.41 922.91,541.50 921.94,541.59 920.97,541.69 920.00,541.79 919.03,541.89 918.06,541.99 917.09,542.10 916.12,542.20 915.16,542.31 914.19,542.42 913.22,542.52 912.25,542.63 911.28,542.73 910.31,542.83 909.34,542.93 908.38,543.03 907.41,543.12 906.44,543.21 905.47,543.29 904.50,543.38 903.53,543.45 902.56,543.52 901.59,543.59 900.62,543.66 899.66,543.71 898.69,543.76 897.72,543.81 896.75,543.85 895.78,543.89 894.81,543.92 893.84,543.94 892.88,543.96 891.91,543.98 890.94,543.98 889.97,543.99 889.00,543.99 888.03,543.98 887.06,543.97 886.09,543.96 885.12,543.94 884.16,543.92 883.19,543.91 882.22,543.89 881.25,543.84 880.28,543.71 879.31,543.52 878.34,543.25 877.38,542.89 876.41,542.45 875.44,541.93 874.47,541.31 873.50,540.60 872.53,541.31 871.56,541.93 870.59,542.45 869.62,542.89 868.66,543.25 867.69,543.52 866.72,543.71 865.75,543.84 864.78,543.89 863.81,543.91 862.84,543.92 861.88,543.94 860.91,543.96 859.94,543.97 858.97,543.98 858.00,543.99 857.03,543.99 856.06,543.98 855.09,543.98 854.12,543.96 853.16,543.94 852.19,543.92 851.22,543.89 850.25,543.85 849.28,543.81 848.31,543.76 847.34,543.71 846.38,543.66 845.41,543.59 844.44,543.52 843.47,543.45 842.50,543.38 841.53,543.29 840.56,543.21 839.59,543.12 838.62,543.03 837.66,542.93 836.69,542.83 835.72,542.73 834.75,542.63 833.78,542.52 832.81,542.42 831.84,542.31 830.88,542.20 829.91,542.10 828.94,541.99 827.97,541.89 827.00,541.79 826.03,541.69 825.06,541.59 824.09,541.50 823.12,541.41 822.16,541.32 821.19,541.25 820.22,541.17 819.25,541.10 818.28,541.04 817.31,540.99 816.34,540.95 815.38,540.92 814.41,540.90 813.44,540.93 812.47,541.00 811.50,541.10 810.53,541.24 809.56,541.41 808.59,541.61 807.62,541.83 806.66,542.06 805.69,542.30 804.72,542.55 803.75,542.79 802.78,543.02 801.81,543.23 800.84,543.43 799.88,543.59 798.91,543.72 797.94,543.82 796.97,543.88 796.00,543.90" fill="#352d23"/><polygon points="1017.50,543.60 1017.95,543.58 1018.40,543.52 1018.85,543.42 1019.30,543.29 1019.75,543.13 1020.20,542.93 1020.65,542.72 1021.10,542.49 1021.55,542.25 1022.00,542.00 1022.45,541.76 1022.90,541.53 1023.35,541.31 1023.80,541.11 1024.25,540.94 1024.70,540.80 1025.15,540.70 1025.60,540.63 1026.05,540.60 1026.50,540.59 1026.95,540.58 1027.40,540.56 1027.85,540.55 1028.30,540.54 1028.75,540.54 1029.20,540.54 1029.65,540.55 1030.10,540.56 1030.55,540.58 1031.00,540.60 1031.45,540.63 1031.90,540.66 1032.35,540.69 1032.80,540.74 1033.25,540.78 1033.70,540.84 1034.15,540.90 1034.60,540.96 1035.05,541.03 1035.50,541.10 1035.95,541.17 1036.40,541.26 1036.85,541.34 1037.30,541.43 1037.75,541.52 1038.20,541.61 1038.65,541.71 1039.10,541.81 1039.55,541.91 1040.00,542.01 1040.45,542.11 1040.90,542.22 1041.35,542.32 1041.80,542.42 1042.25,542.52 1042.70,542.62 1043.15,542.72 1043.60,542.82 1044.05,542.91 1044.50,543.00 1044.95,543.08 1045.40,543.17 1045.85,543.24 1046.30,543.31 1046.75,543.38 1047.20,543.44 1047.65,543.49 1048.10,543.53 1048.55,543.57 1049.00,543.59 1049.45,543.59 1049.90,543.54 1050.35,543.41 1050.80,543.22 1051.25,542.95 1051.70,542.59 1052.15,542.15 1052.60,541.63 1053.05,541.01 1053.50,540.30 1053.95,541.01 1054.40,541.63 1054.85,542.15 1055.30,542.59 1055.75,542.95 1056.20,543.22 1056.65,543.41 1057.10,543.54 1057.55,543.59 1058.00,543.59 1058.45,543.57 1058.90,543.53 1059.35,543.49 1059.80,543.44 1060.25,543.38 1060.70,543.31 1061.15,543.24 1061.60,543.17 1062.05,543.08 1062.50,543.00 1062.95,542.91 1063.40,542.82 1063.85,542.72 1064.30,542.62 1064.75,542.52 1065.20,542.42 1065.65,542.32 1066.10,542.22 1066.55,542.11 1067.00,542.01 1067.45,541.91 1067.90,541.81 1068.35,541.71 1068.80,541.61 1069.25,541.52 1069.70,541.43 1070.15,541.34 1070.60,541.26 1071.05,541.17 1071.50,541.10 1071.95,541.03 1072.40,540.96 1072.85,540.90 1073.30,540.84 1073.75,540.78 1074.20,540.74 1074.65,540.69 1075.10,540.66 1075.55,540.63 1076.00,540.60 1076.45,540.58 1076.90,540.56 1077.35,540.55 1077.80,540.54 1078.25,540.54 1078.70,540.54 1079.15,540.55 1079.60,540.56 1080.05,540.58 1080.50,540.59 1080.95,540.60 1081.40,540.63 1081.85,540.70 1082.30,540.80 1082.75,540.94 1083.20,541.11 1083.65,541.31 1084.10,541.53 1084.55,541.76 1085.00,542.00 1085.45,542.25 1085.90,542.49 1086.35,542.72 1086.80,542.93 1087.25,543.13 1087.70,543.29 1088.15,543.42 1088.60,543.52 1089.05,543.58 1089.50,543.60 1089.50,544.40 1089.05,544.38 1088.60,544.32 1088.15,544.22 1087.70,544.09 1087.25,543.93 1086.80,543.73 1086.35,543.52 1085.90,543.29 1085.45,543.05 1085.00,542.80 1084.55,542.56 1084.10,542.33 1083.65,542.11 1083.20,541.91 1082.75,541.74 1082.30,541.60 1081.85,541.50 1081.40,541.43 1080.95,541.40 1080.50,541.41 1080.05,541.44 1079.60,541.48 1079.15,541.53 1078.70,541.58 1078.25,541.65 1077.80,541.71 1077.35,541.79 1076.90,541.87 1076.45,541.95 1076.00,542.04 1075.55,542.13 1075.10,542.22 1074.65,542.32 1074.20,542.42 1073.75,542.52 1073.30,542.62 1072.85,542.72 1072.40,542.83 1071.95,542.93 1071.50,543.03 1071.05,543.13 1070.60,543.23 1070.15,543.33 1069.70,543.43 1069.25,543.52 1068.80,543.61 1068.35,543.69 1067.90,543.78 1067.45,543.86 1067.00,543.93 1066.55,544.00 1066.10,544.07 1065.65,544.13 1065.20,544.18 1064.75,544.24 1064.30,544.28 1063.85,544.32 1063.40,544.36 1062.95,544.39 1062.50,544.41 1062.05,544.43 1061.60,544.44 1061.15,544.45 1060.70,544.46 1060.25,544.46 1059.80,544.45 1059.35,544.44 1058.90,544.43 1058.45,544.42 1058.00,544.40 1057.55,544.39 1057.10,544.34 1056.65,544.21 1056.20,544.02 1055.75,543.75 1055.30,543.39 1054.85,542.95 1054.40,542.43 1053.95,541.81 1053.50,541.10 1053.05,541.81 1052.60,542.43 1052.15,542.95 1051.70,543.39 1051.25,543.75 1050.80,544.02 1050.35,544.21 1049.90,544.34 1049.45,544.39 1049.00,544.40 1048.55,544.42 1048.10,544.43 1047.65,544.44 1047.20,544.45 1046.75,544.46 1046.30,544.46 1045.85,544.45 1045.40,544.44 1044.95,544.43 1044.50,544.41 1044.05,544.39 1043.60,544.36 1043.15,544.32 1042.70,544.28 1042.25,544.24 1041.80,544.18 1041.35,544.13 1040.90,544.07 1040.45,544.00 1040.00,543.93 1039.55,543.86 1039.10,543.78 1038.65,543.69 1038.20,543.61 1037.75,543.52 1037.30,543.43 1036.85,543.33 1036.40,543.23 1035.95,543.13 1035.50,543.03 1035.05,542.93 1034.60,542.83 1034.15,542.72 1033.70,542.62 1033.25,542.52 1032.80,542.42 1032.35,542.32 1031.90,542.22 1031.45,542.13 1031.00,542.04 1030.55,541.95 1030.10,541.87 1029.65,541.79 1029.20,541.71 1028.75,541.65 1028.30,541.58 1027.85,541.53 1027.40,541.48 1026.95,541.44 1026.50,541.41 1026.05,541.40 1025.60,541.43 1025.15,541.50 1024.70,541.60 1024.25,541.74 1023.80,541.91 1023.35,542.11 1022.90,542.33 1022.45,542.56 1022.00,542.80 1021.55,543.05 1021.10,543.29 1020.65,543.52 1020.20,543.73 1019.75,543.93 1019.30,544.09 1018.85,544.22 1018.40,544.32 1017.95,544.38 1017.50,544.40" fill="#352d23"/><line x1="265.67" y1="576.00" x2="314.27" y2="576.00" stroke="#352d23" stroke-width="2.1" stroke-opacity="1.0"/><line x1="320.27" y1="576.00" x2="368.87" y2="576.00" stroke="#352d23" stroke-width="2.1" stroke-opacity="1.0"/><line x1="374.87" y1="576.00" x2="423.17" y2="576.00" stroke="#352d23" stroke-width="2.1" stroke-opacity="1.0"/><line x1="429.17" y1="576.00" x2="471.67" y2="576.00" stroke="#352d23" stroke-width="2.1" stroke-opacity="1.0"/><line x1="477.67" y1="576.00" x2="520.67" y2="576.00" stroke="#352d23" stroke-width="2.1" stroke-opacity="1.0"/><line x1="526.67" y1="576.00" x2="569.17" y2="576.00" stroke="#352d23" stroke-width="2.1" stroke-opacity="1.0"/><line x1="575.17" y1="576.00" x2="624.47" y2="576.00" stroke="#352d23" stroke-width="2.1" stroke-opacity="1.0"/><line x1="630.47" y1="576.00" x2="678.17" y2="576.00" stroke="#352d23" stroke-width="2.1" stroke-opacity="1.0"/><line x1="684.17" y1="576.00" x2="733.77" y2="576.00" stroke="#352d23" stroke-width="2.1" stroke-opacity="1.0"/><line x1="739.77" y1="576.00" x2="788.57" y2="576.00" stroke="#352d23" stroke-width="2.1" stroke-opacity="1.0"/><line x1="794.57" y1="576.00" x2="844.17" y2="576.00" stroke="#352d23" stroke-width="2.1" stroke-opacity="1.0"/><line x1="850.17" y1="576.00" x2="899.87" y2="576.00" stroke="#352d23" stroke-width="2.1" stroke-opacity="1.0"/><line x1="905.87" y1="576.00" x2="954.47" y2="576.00" stroke="#352d23" stroke-width="2.1" stroke-opacity="1.0"/><line x1="960.47" y1="576.00" x2="1009.07" y2="576.00" stroke="#352d23" stroke-width="2.1" stroke-opacity="1.0"/><line x1="1015.07" y1="576.00" x2="1050.37" y2="576.00" stroke="#352d23" stroke-width="2.1" stroke-opacity="1.0"/><line x1="1056.37" y1="576.00" x2="1091.17" y2="576.00" stroke="#352d23" stroke-width="2.1" stroke-opacity="1.0"/><line x1="122.50" y1="575.60" x2="257.50" y2="575.60" stroke="#352d23" stroke-width="1.6" stroke-opacity="1.0"/><line x1="123.00" y1="1431.80" x2="1091.00" y2="1434.00" stroke="#352d23" stroke-width="1.3" stroke-opacity="1.0"/><line x1="122.00" y1="1524.80" x2="1091.00" y2="1528.00" stroke="#352d23" stroke-width="1.2" stroke-opacity="1.0"/><line x1="122.00" y1="1529.20" x2="1091.00" y2="1532.60" stroke="#352d23" stroke-width="3.0" stroke-opacity="1.0"/><line x1="605.30" y1="1574.00" x2="605.30" y2="1633.00" stroke="#352d23" stroke-width="1.0" stroke-opacity="1.0"/></svg>
<div class="fLS hd" id="f1" style="top:138.81px;font-size:21px;left:262.00px;transform:scaleX(0.9567);transform-origin:left center;">LES DIVERSES EXPOSITIONS DE PRODUITS CHIMIQUES. — FRANCE.</div>
<div class="fLS hd" id="f2" style="top:139.01px;font-size:21px;right:155.00px;text-align:right;transform:scaleX(0.7413);transform-origin:right center;letter-spacing:0px">11</div>
<div class="fDVS j body" id="j3" style="top:200.25px;left:166.00px;width:418.50px;font-size:18.5px;"><b class=pb>Produits chimiques pour laboratoires.</b> —</div>
<div class="fDVS j body" id="j4" style="top:222.92px;left:146.00px;width:438.50px;font-size:18.5px;letter-spacing:0.540px;">Si les maisons françaises exposantes étaient peu</div>
<div class="fDVS j body" id="j5" style="top:245.59px;left:146.00px;width:438.50px;font-size:18.5px;letter-spacing:0.583px;">nombreuses, elles nous ont réservé une surprise</div>
<div class="fDVS j body" id="j6" style="top:268.26px;left:146.00px;width:438.50px;font-size:18.5px;">bien agréable, et certes, on peut dire que la</div>
<div class="fDVS j body" id="j7" style="top:290.93px;left:146.00px;width:438.50px;font-size:18.5px;letter-spacing:0.873px;">magnifique exposition des sels rares de la mai-</div>
<div class="fDVS j body" id="j8" style="top:313.60px;left:146.00px;width:438.50px;font-size:18.5px;">son <i>Chenal-Douilhet et C<sup>ie</sup></i> (grand prix) a été</div>
<div class="fDVS j body" id="j9" style="top:336.27px;left:146.00px;width:438.50px;font-size:18.5px;">le « clou » des Expositions française et étran-</div>
<div class="fDVS j body" id="j10" style="top:358.94px;left:146.00px;width:438.50px;font-size:18.5px;letter-spacing:0.717px;">gères de produits chimiques. Tous les chimistes</div>
<div class="fDVS j body" id="j11" style="top:199.85px;left:612.00px;width:436.50px;font-size:18.5px;letter-spacing:0.649px;">ne se lassaient pas d’admirer ces résultats mer-</div>
<div class="fDVS j body" id="j12" style="top:222.52px;left:612.00px;width:436.50px;font-size:18.5px;letter-spacing:0.521px;">veilleux, fruits d’un travail horriblement difficile</div>
<div class="fDVS body" style="top:245.19px;font-size:18.5px;left:612.00px;">et long.</div>
<div class="fDVS j body" id="j13" style="top:267.86px;left:633.00px;width:415.50px;font-size:18.5px;letter-spacing:0.623px;">La maison <i>Poulenc frères</i>, aujourd’hui société</div>
<div class="fDVS j body" id="j14" style="top:290.53px;left:612.00px;width:436.50px;font-size:18.5px;letter-spacing:1.000px;">anonyme, avait aussi une très belle exposition</div>
<div class="fDVS j body" id="j15" style="top:313.20px;left:612.00px;width:436.50px;font-size:18.5px;letter-spacing:0.762px;">qui lui a valu un grand prix, la <i>Société centrale</i></div>
<div class="fDVS j body" id="j16" style="top:335.87px;left:612.00px;width:436.50px;font-size:18.5px;"><i>de produits chimiques</i> a obtenu une médaille</div>
<div class="fDVS body" style="top:358.54px;font-size:18.5px;left:612.00px;">d’or.</div>
<div class="fLS hd2" id="f17" style="top:419.49px;font-size:19px;left:184.00px;transform:scaleX(0.9067);transform-origin:left center;">COMMERCE EXTÉRIEUR DE LA FRANCE EN PETITS PRODUITS CHIMIQUES MINÉRAUX.</div>
<div class="fLSB hb" id="f18" style="top:484.22px;font-size:13.2px;left:143.00px;width:600px;text-align:center;transform:scaleX(1.0931);transform-origin:center center;">EXPORTATIONS <span class=nb>(en tonnes de 1000 k.).</span></div>
<div class="fLSB hb" id="f19" style="top:484.22px;font-size:13.2px;left:520.50px;width:600px;text-align:center;transform:scaleX(1.0789);transform-origin:center center;">IMPORTATIONS <span class=nb>(en tonnes de 1000 k.).</span></div>
<div class="fLS sc2" id="f20" style="top:521.22px;font-size:11.2px;left:44.00px;width:600px;text-align:center;transform:scaleX(0.9863);transform-origin:center center;">MOYENNES DÉCENNALES</div>
<div class="fLS sc2" id="f21" style="top:521.22px;font-size:11.2px;left:199.00px;width:600px;text-align:center;transform:scaleX(1.0104);transform-origin:center center;">CHIFFRES DÉFINITIFS</div>
<div class="fLS sc2" id="f22" style="top:521.92px;font-size:11.2px;left:409.50px;width:600px;text-align:center;transform:scaleX(0.9863);transform-origin:center center;">MOYENNES DÉCENNALES</div>
<div class="fLS sc2" id="f23" style="top:521.92px;font-size:11.2px;left:574.00px;width:600px;text-align:center;transform:scaleX(1.0325);transform-origin:center center;">CHIFFRES DÉFINITIFS</div>
<div class="fLS cond" id="f24" style="top:512.93px;font-size:10px;left:299.50px;width:600px;text-align:center;transform:scaleX(0.8139);transform-origin:center center;">CHIFFRES</div>
<div class="fLS cond" id="f25" style="top:524.67px;font-size:11.5px;left:299.50px;width:600px;text-align:center;transform:scaleX(0.8609);transform-origin:center center;">provisoires</div>
<div class="fLS cond" id="f26" style="top:513.93px;font-size:10px;left:684.00px;width:600px;text-align:center;transform:scaleX(0.8139);transform-origin:center center;">CHIFFRES</div>
<div class="fLS cond" id="f27" style="top:525.67px;font-size:11.5px;left:684.00px;width:600px;text-align:center;transform:scaleX(0.8609);transform-origin:center center;">provisoires</div>
<div class="fLS cond2" id="f28" style="top:485.75px;font-size:12px;left:752.50px;width:600px;text-align:center;transform:scaleX(0.9523);transform-origin:center center;">Prix E. V. D.</div>
<div class="fLS cond2" id="f29" style="top:502.75px;font-size:12px;left:752.50px;width:600px;text-align:center;transform:scaleX(0.9818);transform-origin:center center;">des 1000 k,</div>
<div class="fLS cond2" id="f30" style="top:520.25px;font-size:12px;left:752.50px;width:600px;text-align:center;transform:scaleX(1.0951);transform-origin:center center;">en fr.</div>
<div class="fDVC yr" id="f31" style="top:551.55px;font-size:14px;left:-10.24px;width:600px;text-align:center;transform:scaleX(0.8066);transform-origin:center center;">1867–76</div>
<div class="fDVC yr" id="f32" style="top:551.55px;font-size:14px;left:44.36px;width:600px;text-align:center;transform:scaleX(0.8066);transform-origin:center center;">1877–86</div>
<div class="fDVC yr" id="f33" style="top:551.55px;font-size:14px;left:98.81px;width:600px;text-align:center;transform:scaleX(0.8066);transform-origin:center center;">1887–96</div>
<div class="fDVC yr" id="f34" style="top:551.55px;font-size:14px;left:150.21px;width:600px;text-align:center;transform:scaleX(0.7843);transform-origin:center center;">1897</div>
<div class="fDVC yr" id="f35" style="top:551.55px;font-size:14px;left:198.96px;width:600px;text-align:center;transform:scaleX(0.7843);transform-origin:center center;">1898</div>
<div class="fDVC yr" id="f36" style="top:551.55px;font-size:14px;left:247.71px;width:600px;text-align:center;transform:scaleX(0.7843);transform-origin:center center;">1899</div>
<div class="fDVC yr" id="f37" style="top:551.55px;font-size:14px;left:299.61px;width:600px;text-align:center;transform:scaleX(0.7843);transform-origin:center center;">1900</div>
<div class="fDVC yr" id="f38" style="top:551.55px;font-size:14px;left:355.11px;width:600px;text-align:center;transform:scaleX(0.8066);transform-origin:center center;">1867–76</div>
<div class="fDVC yr" id="f39" style="top:551.55px;font-size:14px;left:408.76px;width:600px;text-align:center;transform:scaleX(0.8066);transform-origin:center center;">1877–86</div>
<div class="fDVC yr" id="f40" style="top:551.55px;font-size:14px;left:463.96px;width:600px;text-align:center;transform:scaleX(0.8066);transform-origin:center center;">1887–96</div>
<div class="fDVC yr" id="f41" style="top:551.55px;font-size:14px;left:519.16px;width:600px;text-align:center;transform:scaleX(0.7843);transform-origin:center center;">1897</div>
<div class="fDVC yr" id="f42" style="top:551.55px;font-size:14px;left:574.81px;width:600px;text-align:center;transform:scaleX(0.7843);transform-origin:center center;">1898</div>
<div class="fDVC yr" id="f43" style="top:551.55px;font-size:14px;left:629.96px;width:600px;text-align:center;transform:scaleX(0.7843);transform-origin:center center;">1899</div>
<div class="fDVC yr" id="f44" style="top:551.55px;font-size:14px;left:684.56px;width:600px;text-align:center;transform:scaleX(0.7843);transform-origin:center center;">1900</div>
<div class="fDVC yr" id="f45" style="top:551.55px;font-size:14px;left:732.51px;width:600px;text-align:center;transform:scaleX(0.7843);transform-origin:center center;">1867</div>
<div class="fDVC yr" id="f46" style="top:551.55px;font-size:14px;left:773.56px;width:600px;text-align:center;transform:scaleX(0.7843);transform-origin:center center;">1900</div>
<div class="fDVS lab" style="top:592.73px;left:122.46px;width:137.50px"><span class=lt><b>Aluminium.</b></span></div>
<div class="fDVS lab" style="top:606.48px;left:122.62px;width:137.50px"><span class=lt>— Alumine anh</span><span class=ld>........................................</span></div>
<div class="fDVS dit" style="top:607.38px;font-size:11px;right:897.58px;text-align:right;">»</div>
<div class="fDVS dit" style="top:607.60px;font-size:11px;right:842.98px;text-align:right;">»</div>
<div class="fDVS num" style="top:606.54px;font-size:12.5px;right:777.68px;text-align:right;">0,2</div>
<div class="fDVS num" style="top:606.74px;font-size:12.5px;right:729.18px;text-align:right;">0,9</div>
<div class="fDVS num" style="top:606.93px;font-size:12.5px;right:680.18px;text-align:right;">0,4</div>
<div class="fDVS num" style="top:607.13px;font-size:12.5px;right:631.68px;text-align:right;">0,2</div>
<div class="fDVS dit" style="top:608.62px;font-size:11px;right:587.38px;text-align:right;">»</div>
<div class="fDVS dit" style="top:608.84px;font-size:11px;right:533.68px;text-align:right;">»</div>
<div class="fDVS dit" style="top:609.06px;font-size:11px;right:478.08px;text-align:right;">»</div>
<div class="fDVS num" style="top:608.00px;font-size:12.5px;right:412.28px;text-align:right;">90</div>
<div class="fDVS num" style="top:608.23px;font-size:12.5px;right:356.68px;text-align:right;">424</div>
<div class="fDVS num" style="top:608.45px;font-size:12.5px;right:300.98px;text-align:right;">201</div>
<div class="fDVS dit" style="top:609.94px;font-size:11px;right:257.38px;text-align:right;">»</div>
<div class="fDVS dit" style="top:610.16px;font-size:11px;right:202.78px;text-align:right;">»</div>
<div class="fDVS dit" style="top:610.33px;font-size:11px;right:152.48px;text-align:right;">»</div>
<div class="fDVS num" style="top:609.15px;font-size:12.5px;left:775.62px;width:600px;text-align:center;">500</div>
<div class="fDVS lab" style="top:620.23px;left:122.77px;width:137.50px"><span class=lt>—&nbsp;&nbsp;&nbsp;— hydratée</span><span class=ld>........................................</span></div>
<div class="fDVS dit" style="top:621.13px;font-size:11px;right:897.43px;text-align:right;">»</div>
<div class="fDVS dit" style="top:621.35px;font-size:11px;right:842.83px;text-align:right;">»</div>
<div class="fDVS dit" style="top:621.57px;font-size:11px;right:788.53px;text-align:right;">»</div>
<div class="fDVS dit" style="top:621.76px;font-size:11px;right:740.03px;text-align:right;">»</div>
<div class="fDVS dit" style="top:621.96px;font-size:11px;right:691.03px;text-align:right;">«</div>
<div class="fDVS dit" style="top:622.15px;font-size:11px;right:642.53px;text-align:right;">»</div>
<div class="fDVS dit" style="top:622.37px;font-size:11px;right:587.23px;text-align:right;">»</div>
<div class="fDVS dit" style="top:622.59px;font-size:11px;right:533.53px;text-align:right;">»</div>
<div class="fDVS dit" style="top:622.81px;font-size:11px;right:477.93px;text-align:right;">»</div>
<div class="fDVS num" style="top:621.75px;font-size:12.5px;right:412.13px;text-align:right;">19</div>
<div class="fDVS num" style="top:621.97px;font-size:12.5px;right:356.53px;text-align:right;">92</div>
<div class="fDVS num" style="top:622.20px;font-size:12.5px;right:300.83px;text-align:right;">55</div>
<div class="fDVS num" style="top:622.42px;font-size:12.5px;right:246.23px;text-align:right;">19</div>
<div class="fDVS num" style="top:622.63px;font-size:12.5px;right:191.63px;text-align:right;">23</div>
<div class="fDVS dit" style="top:624.08px;font-size:11px;right:152.33px;text-align:right;">»</div>
<div class="fDVS num" style="top:622.90px;font-size:12.5px;left:775.77px;width:600px;text-align:center;">300</div>
<div class="fDVS lab" style="top:633.97px;left:122.93px;width:137.50px"><span class=lt>— Aluns</span><span class=ld>........................................</span></div>
<div class="fDVS num" style="top:633.60px;font-size:12.5px;right:886.27px;text-align:right;">2.132</div>
<div class="fDVS num" style="top:633.82px;font-size:12.5px;right:831.67px;text-align:right;">2.192</div>
<div class="fDVS num" style="top:634.04px;font-size:12.5px;right:777.37px;text-align:right;">688</div>
<div class="fDVS num" style="top:634.23px;font-size:12.5px;right:728.87px;text-align:right;">180</div>
<div class="fDVS num" style="top:634.43px;font-size:12.5px;right:679.87px;text-align:right;">192</div>
<div class="fDVS num" style="top:634.62px;font-size:12.5px;right:631.37px;text-align:right;">285</div>
<div class="fDVS num" style="top:634.84px;font-size:12.5px;right:576.07px;text-align:right;">165</div>
<div class="fDVS dit" style="top:636.34px;font-size:11px;right:533.37px;text-align:right;">»</div>
<div class="fDVS dit" style="top:636.56px;font-size:11px;right:477.77px;text-align:right;">»</div>
<div class="fDVS num" style="top:635.50px;font-size:12.5px;right:411.97px;text-align:right;">1.361</div>
<div class="fDVS num" style="top:635.72px;font-size:12.5px;right:356.37px;text-align:right;">53</div>
<div class="fDVS num" style="top:635.95px;font-size:12.5px;right:300.67px;text-align:right;">27</div>
<div class="fDVS num" style="top:636.16px;font-size:12.5px;right:246.07px;text-align:right;">34</div>
<div class="fDVS num" style="top:636.38px;font-size:12.5px;right:191.47px;text-align:right;">74</div>
<div class="fDVS dit" style="top:637.83px;font-size:11px;right:152.17px;text-align:right;">»</div>
<div class="fDVS num" style="top:636.65px;font-size:12.5px;left:775.93px;width:600px;text-align:center;">140</div>
<div class="fDVS lab" style="top:647.72px;left:123.03px;width:137.50px"><span class=lt>— Sulfate (10)</span><span class=ld>........................................</span></div>
<div class="fDVS dit" style="top:648.63px;font-size:11px;right:897.17px;text-align:right;">»</div>
<div class="fDVS dit" style="top:648.85px;font-size:11px;right:842.57px;text-align:right;">»</div>
<div class="fDVS num" style="top:647.79px;font-size:12.5px;right:777.27px;text-align:right;">17</div>
<div class="fDVS num" style="top:647.98px;font-size:12.5px;right:728.77px;text-align:right;">5</div>
<div class="fDVS num" style="top:648.18px;font-size:12.5px;right:679.77px;text-align:right;">33</div>
<div class="fDVS num" style="top:648.37px;font-size:12.5px;right:631.27px;text-align:right;">32</div>
<div class="fDVS num" style="top:648.59px;font-size:12.5px;right:575.97px;text-align:right;">102</div>
<div class="fDVS dit" style="top:650.09px;font-size:11px;right:533.27px;text-align:right;">»</div>
<div class="fDVS dit" style="top:650.31px;font-size:11px;right:477.67px;text-align:right;">»</div>
<div class="fDVS num" style="top:649.25px;font-size:12.5px;right:411.87px;text-align:right;">473</div>
<div class="fDVS num" style="top:649.47px;font-size:12.5px;right:356.27px;text-align:right;">1.679</div>
<div class="fDVS num" style="top:649.69px;font-size:12.5px;right:300.57px;text-align:right;">2.191</div>
<div class="fDVS num" style="top:649.91px;font-size:12.5px;right:245.97px;text-align:right;">2.500</div>
<div class="fDVS num" style="top:650.13px;font-size:12.5px;right:191.37px;text-align:right;">2.105</div>
<div class="fDVS num" style="top:650.30px;font-size:12.5px;right:150.07px;text-align:right;">190</div>
<div class="fDVS num" style="top:650.40px;font-size:12.5px;left:776.03px;width:600px;text-align:center;">100</div>
<div class="fDVS lab" style="top:661.47px;left:123.09px;width:137.50px"><span class=lt><b>Ammoniaque</b>(4)</span><span class=ld>........................................</span></div>
<div class="fDVS dit" style="top:662.38px;font-size:11px;right:897.11px;text-align:right;">»</div>
<div class="fDVS num" style="top:661.32px;font-size:12.5px;right:831.51px;text-align:right;">335</div>
<div class="fDVS num" style="top:661.54px;font-size:12.5px;right:777.21px;text-align:right;">240</div>
<div class="fDVS num" style="top:661.73px;font-size:12.5px;right:728.71px;text-align:right;">298</div>
<div class="fDVS num" style="top:661.93px;font-size:12.5px;right:679.71px;text-align:right;">148</div>
<div class="fDVS num" style="top:662.12px;font-size:12.5px;right:631.21px;text-align:right;">201</div>
<div class="fDVS num" style="top:662.34px;font-size:12.5px;right:575.91px;text-align:right;">116</div>
<div class="fDVS dit" style="top:663.83px;font-size:11px;right:533.21px;text-align:right;">»</div>
<div class="fDVS num" style="top:662.78px;font-size:12.5px;right:466.61px;text-align:right;">70</div>
<div class="fDVS num" style="top:663.00px;font-size:12.5px;right:411.81px;text-align:right;">156</div>
<div class="fDVS num" style="top:663.22px;font-size:12.5px;right:356.21px;text-align:right;">113</div>
<div class="fDVS num" style="top:663.44px;font-size:12.5px;right:300.51px;text-align:right;">149</div>
<div class="fDVS num" style="top:663.66px;font-size:12.5px;right:245.91px;text-align:right;">133</div>
<div class="fDVS num" style="top:663.88px;font-size:12.5px;right:191.31px;text-align:right;">148</div>
<div class="fDVS dit" style="top:665.32px;font-size:11px;right:152.01px;text-align:right;">»</div>
<div class="fDVS num" style="top:664.14px;font-size:12.5px;left:776.09px;width:600px;text-align:center;">250</div>
<div class="fDVS lab" style="top:675.22px;left:123.14px;width:137.50px"><span class=lt><b>Argent</b> (Sels)</span><span class=ld>........................................</span></div>
<div class="fDVS dit" style="top:676.13px;font-size:11px;right:897.06px;text-align:right;">»</div>
<div class="fDVS dit" style="top:676.34px;font-size:11px;right:842.46px;text-align:right;">»</div>
<div class="fDVS num" style="top:675.28px;font-size:12.5px;right:777.16px;text-align:right;">4</div>
<div class="fDVS num" style="top:675.48px;font-size:12.5px;right:728.66px;text-align:right;">6,7</div>
<div class="fDVS num" style="top:675.67px;font-size:12.5px;right:679.66px;text-align:right;">0,9</div>
<div class="fDVS num" style="top:675.87px;font-size:12.5px;right:631.16px;text-align:right;">216</div>
<div class="fDVS num" style="top:676.09px;font-size:12.5px;right:575.86px;text-align:right;">1</div>
<div class="fDVS dit" style="top:677.58px;font-size:11px;right:533.16px;text-align:right;">»</div>
<div class="fDVS dit" style="top:677.80px;font-size:11px;right:477.56px;text-align:right;">*</div>
<div class="fDVS num" style="top:676.75px;font-size:12.5px;right:411.76px;text-align:right;">0,04</div>
<div class="fDVS dit" style="top:678.25px;font-size:11px;right:367.16px;text-align:right;">»</div>
<div class="fDVS dit" style="top:678.47px;font-size:11px;right:311.46px;text-align:right;">»</div>
<div class="fDVS dit" style="top:678.69px;font-size:11px;right:256.86px;text-align:right;">»</div>
<div class="fDVS dit" style="top:678.91px;font-size:11px;right:202.26px;text-align:right;">»</div>
<div class="fDVS dit" style="top:679.07px;font-size:11px;right:151.96px;text-align:right;">»</div>
<div class="fDVS num" style="top:677.89px;font-size:12.5px;left:776.14px;width:600px;text-align:center;">75 (<span class=sc>A</span>)</div>
<div class="fDVS lab" style="top:688.97px;left:123.20px;width:137.50px"><span class=lt><b>Baryum</b> (Biox.) (4).</span></div>
<div class="fDVS dit" style="top:689.87px;font-size:11px;right:897.00px;text-align:right;">»</div>
<div class="fDVS dit" style="top:690.09px;font-size:11px;right:842.40px;text-align:right;">»</div>
<div class="fDVS num" style="top:689.03px;font-size:12.5px;right:777.10px;text-align:right;">7</div>
<div class="fDVS num" style="top:689.23px;font-size:12.5px;right:728.60px;text-align:right;">43</div>
<div class="fDVS num" style="top:689.42px;font-size:12.5px;right:679.60px;text-align:right;">2</div>
<div class="fDVS num" style="top:689.62px;font-size:12.5px;right:631.10px;text-align:right;">26</div>
<div class="fDVS num" style="top:689.84px;font-size:12.5px;right:575.80px;text-align:right;">44</div>
<div class="fDVS dit" style="top:691.33px;font-size:11px;right:533.10px;text-align:right;">»</div>
<div class="fDVS dit" style="top:691.55px;font-size:11px;right:477.50px;text-align:right;">»</div>
<div class="fDVS num" style="top:690.49px;font-size:12.5px;right:411.70px;text-align:right;">132</div>
<div class="fDVS num" style="top:690.72px;font-size:12.5px;right:356.10px;text-align:right;">254</div>
<div class="fDVS num" style="top:690.94px;font-size:12.5px;right:300.40px;text-align:right;">304</div>
<div class="fDVS num" style="top:691.16px;font-size:12.5px;right:245.80px;text-align:right;">547</div>
<div class="fDVS num" style="top:691.38px;font-size:12.5px;right:191.20px;text-align:right;">471</div>
<div class="fDVS dit" style="top:692.82px;font-size:11px;right:151.90px;text-align:right;">»</div>
<div class="fDVS num" style="top:691.64px;font-size:12.5px;left:776.20px;width:600px;text-align:center;">1.000</div>
<div class="fDVS lab" style="top:702.71px;left:123.26px;width:137.50px"><span class=lt><b>Borique</b> (Ac.)</span><span class=ld>........................................</span></div>
<div class="fDVS num" style="top:702.35px;font-size:12.5px;right:885.94px;text-align:right;">49</div>
<div class="fDVS num" style="top:702.56px;font-size:12.5px;right:831.34px;text-align:right;">86</div>
<div class="fDVS num" style="top:702.78px;font-size:12.5px;right:777.04px;text-align:right;">54</div>
<div class="fDVS num" style="top:702.97px;font-size:12.5px;right:728.54px;text-align:right;">136</div>
<div class="fDVS num" style="top:703.17px;font-size:12.5px;right:679.54px;text-align:right;">252</div>
<div class="fDVS num" style="top:703.36px;font-size:12.5px;right:631.04px;text-align:right;">301</div>
<div class="fDVS num" style="top:703.59px;font-size:12.5px;right:575.74px;text-align:right;">273</div>
<div class="fDVS num" style="top:703.80px;font-size:12.5px;right:522.04px;text-align:right;">118</div>
<div class="fDVS num" style="top:704.02px;font-size:12.5px;right:466.44px;text-align:right;">89</div>
<div class="fDVS num" style="top:704.24px;font-size:12.5px;right:411.64px;text-align:right;">323</div>
<div class="fDVS num" style="top:704.46px;font-size:12.5px;right:356.04px;text-align:right;">522</div>
<div class="fDVS num" style="top:704.69px;font-size:12.5px;right:300.34px;text-align:right;">395</div>
<div class="fDVS num" style="top:704.91px;font-size:12.5px;right:245.74px;text-align:right;">542</div>
<div class="fDVS num" style="top:705.12px;font-size:12.5px;right:191.14px;text-align:right;">387</div>
<div class="fDVS num" style="top:705.29px;font-size:12.5px;right:149.84px;text-align:right;">1.600</div>
<div class="fDVS num" style="top:705.39px;font-size:12.5px;left:776.26px;width:600px;text-align:center;">650</div>
<div class="fDVS lab" style="top:716.46px;left:123.32px;width:137.50px"><span class=lt><b>Brome</b></span><span class=ld>........................................</span></div>
<div class="fDVS num" style="top:716.09px;font-size:12.5px;right:885.88px;text-align:right;">1,5</div>
<div class="fDVS num" style="top:716.31px;font-size:12.5px;right:831.28px;text-align:right;">2,7</div>
<div class="fDVS num" style="top:716.53px;font-size:12.5px;right:776.98px;text-align:right;">0,2</div>
<div class="fDVS num" style="top:716.72px;font-size:12.5px;right:728.48px;text-align:right;">0,3</div>
<div class="fDVS num" style="top:716.92px;font-size:12.5px;right:679.48px;text-align:right;">0,06</div>
<div class="fDVS num" style="top:717.11px;font-size:12.5px;right:630.98px;text-align:right;">0,3</div>
<div class="fDVS num" style="top:717.33px;font-size:12.5px;right:575.68px;text-align:right;">1,3</div>
<div class="fDVS num" style="top:717.55px;font-size:12.5px;right:521.98px;text-align:right;">15</div>
<div class="fDVS num" style="top:717.77px;font-size:12.5px;right:466.38px;text-align:right;">31</div>
<div class="fDVS num" style="top:717.99px;font-size:12.5px;right:411.58px;text-align:right;">37</div>
<div class="fDVS num" style="top:718.21px;font-size:12.5px;right:355.98px;text-align:right;">42</div>
<div class="fDVS num" style="top:718.44px;font-size:12.5px;right:300.28px;text-align:right;">36</div>
<div class="fDVS num" style="top:718.65px;font-size:12.5px;right:245.68px;text-align:right;">49</div>
<div class="fDVS num" style="top:718.87px;font-size:12.5px;right:191.08px;text-align:right;">45</div>
<div class="fDVS num" style="top:719.04px;font-size:12.5px;right:149.78px;text-align:right;">11 (<span class=sc>A</span>)</div>
<div class="fDVS num" style="top:719.14px;font-size:12.5px;left:776.32px;width:600px;text-align:center;">4.500</div>
<div class="fDVS lab" style="top:730.21px;left:123.37px;width:137.50px"><span class=lt><b>Bromures</b></span><span class=ld>........................................</span></div>
<div class="fDVS num" style="top:729.84px;font-size:12.5px;right:885.83px;text-align:right;">3</div>
<div class="fDVS num" style="top:730.06px;font-size:12.5px;right:831.23px;text-align:right;">1,9</div>
<div class="fDVS num" style="top:730.28px;font-size:12.5px;right:776.93px;text-align:right;">3</div>
<div class="fDVS num" style="top:730.47px;font-size:12.5px;right:728.43px;text-align:right;">3,4</div>
<div class="fDVS num" style="top:730.67px;font-size:12.5px;right:679.43px;text-align:right;">3,3</div>
<div class="fDVS num" style="top:730.86px;font-size:12.5px;right:630.93px;text-align:right;">3,5</div>
<div class="fDVS num" style="top:731.08px;font-size:12.5px;right:575.63px;text-align:right;">10,7</div>
<div class="fDVS dit" style="top:732.57px;font-size:11px;right:532.93px;text-align:right;">»</div>
<div class="fDVS dit" style="top:732.80px;font-size:11px;right:477.33px;text-align:right;">»</div>
<div class="fDVS num" style="top:731.74px;font-size:12.5px;right:411.53px;text-align:right;">10</div>
<div class="fDVS num" style="top:731.96px;font-size:12.5px;right:355.93px;text-align:right;">18</div>
<div class="fDVS num" style="top:732.18px;font-size:12.5px;right:300.23px;text-align:right;">29</div>
<div class="fDVS num" style="top:732.40px;font-size:12.5px;right:245.63px;text-align:right;">7</div>
<div class="fDVS num" style="top:732.62px;font-size:12.5px;right:191.03px;text-align:right;">9</div>
<div class="fDVS dit" style="top:734.06px;font-size:11px;right:151.73px;text-align:right;">»</div>
<div class="fDVS num" style="top:732.88px;font-size:12.5px;left:776.37px;width:600px;text-align:center;">4.750</div>
<div class="fDVS lab" style="top:743.96px;left:123.43px;width:137.50px"><span class=lt><b>Calcium</b>. Borate</span><span class=ld>........................................</span></div>
<div class="fDVS dit" style="top:744.87px;font-size:11px;right:896.77px;text-align:right;">»</div>
<div class="fDVS dit" style="top:745.09px;font-size:11px;right:842.17px;text-align:right;">»</div>
<div class="fDVS num" style="top:744.03px;font-size:12.5px;right:776.87px;text-align:right;">66</div>
<div class="fDVS num" style="top:744.22px;font-size:12.5px;right:728.37px;text-align:right;">138</div>
<div class="fDVS num" style="top:744.42px;font-size:12.5px;right:679.37px;text-align:right;">208</div>
<div class="fDVS num" style="top:744.61px;font-size:12.5px;right:630.87px;text-align:right;">10</div>
<div class="fDVS num" style="top:744.83px;font-size:12.5px;right:575.57px;text-align:right;">23</div>
<div class="fDVS num" style="top:745.05px;font-size:12.5px;right:521.87px;text-align:right;">232</div>
<div class="fDVS num" style="top:745.27px;font-size:12.5px;right:466.27px;text-align:right;">955</div>
<div class="fDVS num" style="top:745.49px;font-size:12.5px;right:411.47px;text-align:right;">1.083</div>
<div class="fDVS num" style="top:745.71px;font-size:12.5px;right:355.87px;text-align:right;">5.161</div>
<div class="fDVS num" style="top:745.93px;font-size:12.5px;right:300.17px;text-align:right;">3.608</div>
<div class="fDVS num" style="top:746.15px;font-size:12.5px;right:245.57px;text-align:right;">1.343</div>
<div class="fDVS num" style="top:746.37px;font-size:12.5px;right:190.97px;text-align:right;">3.474</div>
<div class="fDVS dit" style="top:747.81px;font-size:11px;right:151.67px;text-align:right;">»</div>
<div class="fDVS num" style="top:746.63px;font-size:12.5px;left:776.43px;width:600px;text-align:center;">150</div>
<div class="fDVS lab" style="top:757.71px;left:123.49px;width:137.50px"><span class=lt>— Pyrolignite</span><span class=ld>........................................</span></div>
<div class="fDVS dit" style="top:758.62px;font-size:11px;right:896.71px;text-align:right;">»</div>
<div class="fDVS dit" style="top:758.83px;font-size:11px;right:842.11px;text-align:right;">»</div>
<div class="fDVS num" style="top:757.77px;font-size:12.5px;right:776.81px;text-align:right;">181</div>
<div class="fDVS num" style="top:757.97px;font-size:12.5px;right:728.31px;text-align:right;">103</div>
<div class="fDVS num" style="top:758.16px;font-size:12.5px;right:679.31px;text-align:right;">375</div>
<div class="fDVS num" style="top:758.36px;font-size:12.5px;right:630.81px;text-align:right;">142</div>
<div class="fDVS num" style="top:758.58px;font-size:12.5px;right:575.51px;text-align:right;">19</div>
<div class="fDVS dit" style="top:760.07px;font-size:11px;right:532.81px;text-align:right;">»</div>
<div class="fDVS dit" style="top:760.29px;font-size:11px;right:477.21px;text-align:right;">»</div>
<div class="fDVS num" style="top:759.24px;font-size:12.5px;right:411.41px;text-align:right;">51</div>
<div class="fDVS dit" style="top:760.74px;font-size:11px;right:366.81px;text-align:right;">»</div>
<div class="fDVS dit" style="top:760.96px;font-size:11px;right:311.11px;text-align:right;">»</div>
<div class="fDVS dit" style="top:761.18px;font-size:11px;right:256.51px;text-align:right;">»</div>
<div class="fDVS dit" style="top:761.39px;font-size:11px;right:201.91px;text-align:right;">»</div>
<div class="fDVS dit" style="top:761.56px;font-size:11px;right:151.61px;text-align:right;">»</div>
<div class="fDVS num" style="top:760.38px;font-size:12.5px;left:776.49px;width:600px;text-align:center;">190</div>
<div class="fDVS lab" style="top:771.45px;left:123.55px;width:137.50px"><span class=lt><b>Cobalt</b>. Oxyde (1)</span><span class=ld>........................................</span></div>
<div class="fDVS dit" style="top:772.36px;font-size:11px;right:896.65px;text-align:right;">»</div>
<div class="fDVS dit" style="top:772.58px;font-size:11px;right:842.05px;text-align:right;">»</div>
<div class="fDVS num" style="top:771.52px;font-size:12.5px;right:776.75px;text-align:right;">8</div>
<div class="fDVS num" style="top:771.72px;font-size:12.5px;right:728.25px;text-align:right;">13</div>
<div class="fDVS num" style="top:771.91px;font-size:12.5px;right:679.25px;text-align:right;">7</div>
<div class="fDVS num" style="top:772.11px;font-size:12.5px;right:630.75px;text-align:right;">11</div>
<div class="fDVS num" style="top:772.33px;font-size:12.5px;right:575.45px;text-align:right;">16</div>
<div class="fDVS num" style="top:772.54px;font-size:12.5px;right:521.75px;text-align:right;">9</div>
<div class="fDVS num" style="top:772.76px;font-size:12.5px;right:466.15px;text-align:right;">9</div>
<div class="fDVS num" style="top:772.98px;font-size:12.5px;right:411.35px;text-align:right;">32</div>
<div class="fDVS num" style="top:773.21px;font-size:12.5px;right:355.75px;text-align:right;">98</div>
<div class="fDVS num" style="top:773.43px;font-size:12.5px;right:300.05px;text-align:right;">91</div>
<div class="fDVS num" style="top:773.65px;font-size:12.5px;right:245.45px;text-align:right;">86</div>
<div class="fDVS num" style="top:773.87px;font-size:12.5px;right:190.85px;text-align:right;">75</div>
<div class="fDVS dit" style="top:775.31px;font-size:11px;right:151.55px;text-align:right;">»</div>
<div class="fDVS num" style="top:774.13px;font-size:12.5px;left:776.55px;width:600px;text-align:center;">3.000</div>
<div class="fDVS lab" style="top:785.20px;left:123.60px;width:137.50px"><span class=lt>— Sels</span><span class=ld>........................................</span></div>
<div class="fDVS dit" style="top:786.11px;font-size:11px;right:896.60px;text-align:right;">»</div>
<div class="fDVS dit" style="top:786.33px;font-size:11px;right:842.00px;text-align:right;">»</div>
<div class="fDVS num" style="top:785.27px;font-size:12.5px;right:776.70px;text-align:right;">10</div>
<div class="fDVS num" style="top:785.46px;font-size:12.5px;right:728.20px;text-align:right;">34</div>
<div class="fDVS num" style="top:785.66px;font-size:12.5px;right:679.20px;text-align:right;">12</div>
<div class="fDVS num" style="top:785.85px;font-size:12.5px;right:630.70px;text-align:right;">0,2</div>
<div class="fDVS dit" style="top:787.35px;font-size:11px;right:586.40px;text-align:right;">»</div>
<div class="fDVS dit" style="top:787.57px;font-size:11px;right:532.70px;text-align:right;">»</div>
<div class="fDVS dit" style="top:787.79px;font-size:11px;right:477.10px;text-align:right;">»</div>
<div class="fDVS num" style="top:786.73px;font-size:12.5px;right:411.30px;text-align:right;">0,3</div>
<div class="fDVS dit" style="top:788.23px;font-size:11px;right:366.70px;text-align:right;">»</div>
<div class="fDVS dit" style="top:788.45px;font-size:11px;right:311.00px;text-align:right;">»</div>
<div class="fDVS dit" style="top:788.67px;font-size:11px;right:256.40px;text-align:right;">»</div>
<div class="fDVS dit" style="top:788.89px;font-size:11px;right:201.80px;text-align:right;">»</div>
<div class="fDVS dit" style="top:789.06px;font-size:11px;right:151.50px;text-align:right;">»</div>
<div class="fDVS num" style="top:787.88px;font-size:12.5px;left:776.60px;width:600px;text-align:center;">19 (<span class=sc>A</span>)</div>
<div class="fDVS lab" style="top:798.95px;left:123.66px;width:137.50px"><span class=lt><b>Cuivre</b>. Acétates (6).</span></div>
<div class="fDVS num" style="top:798.58px;font-size:12.5px;right:885.54px;text-align:right;">421</div>
<div class="fDVS num" style="top:798.80px;font-size:12.5px;right:830.94px;text-align:right;">471</div>
<div class="fDVS num" style="top:799.02px;font-size:12.5px;right:776.64px;text-align:right;">480</div>
<div class="fDVS num" style="top:799.21px;font-size:12.5px;right:728.14px;text-align:right;">547</div>
<div class="fDVS num" style="top:799.41px;font-size:12.5px;right:679.14px;text-align:right;">700</div>
<div class="fDVS num" style="top:799.60px;font-size:12.5px;right:630.64px;text-align:right;">630</div>
<div class="fDVS num" style="top:799.82px;font-size:12.5px;right:575.34px;text-align:right;">661</div>
<div class="fDVS dit" style="top:801.32px;font-size:11px;right:532.64px;text-align:right;">»</div>
<div class="fDVS dit" style="top:801.54px;font-size:11px;right:477.04px;text-align:right;">»</div>
<div class="fDVS dit" style="top:801.76px;font-size:11px;right:422.24px;text-align:right;">»</div>
<div class="fDVS dit" style="top:801.98px;font-size:11px;right:366.64px;text-align:right;">»</div>
<div class="fDVS dit" style="top:802.20px;font-size:11px;right:310.94px;text-align:right;">»</div>
<div class="fDVS dit" style="top:802.42px;font-size:11px;right:256.34px;text-align:right;">»</div>
<div class="fDVS dit" style="top:802.64px;font-size:11px;right:201.74px;text-align:right;">»</div>
<div class="fDVS num" style="top:801.53px;font-size:12.5px;right:149.44px;text-align:right;">3.300</div>
<div class="fDVS num" style="top:801.62px;font-size:12.5px;left:776.66px;width:600px;text-align:center;">1.500</div>
<div class="fDVS lab" style="top:812.70px;left:123.72px;width:137.50px"><span class=lt>— Oxyde</span><span class=ld>........................................</span></div>
<div class="fDVS dit" style="top:813.61px;font-size:11px;right:896.48px;text-align:right;">»</div>
<div class="fDVS dit" style="top:813.83px;font-size:11px;right:841.88px;text-align:right;">»</div>
<div class="fDVS num" style="top:812.77px;font-size:12.5px;right:776.58px;text-align:right;">12</div>
<div class="fDVS num" style="top:812.96px;font-size:12.5px;right:728.08px;text-align:right;">10</div>
<div class="fDVS num" style="top:813.16px;font-size:12.5px;right:679.08px;text-align:right;">21</div>
<div class="fDVS num" style="top:813.35px;font-size:12.5px;right:630.58px;text-align:right;">11</div>
<div class="fDVS num" style="top:813.57px;font-size:12.5px;right:575.28px;text-align:right;">9</div>
<div class="fDVS num" style="top:813.79px;font-size:12.5px;right:521.58px;text-align:right;">55</div>
<div class="fDVS num" style="top:814.01px;font-size:12.5px;right:465.98px;text-align:right;">14</div>
<div class="fDVS num" style="top:814.23px;font-size:12.5px;right:411.18px;text-align:right;">21</div>
<div class="fDVS num" style="top:814.45px;font-size:12.5px;right:355.58px;text-align:right;">29</div>
<div class="fDVS num" style="top:814.67px;font-size:12.5px;right:299.88px;text-align:right;">51</div>
<div class="fDVS num" style="top:814.89px;font-size:12.5px;right:245.28px;text-align:right;">36</div>
<div class="fDVS num" style="top:815.11px;font-size:12.5px;right:190.68px;text-align:right;">84</div>
<div class="fDVS num" style="top:815.28px;font-size:12.5px;right:149.38px;text-align:right;">5.000</div>
<div class="fDVS num" style="top:815.37px;font-size:12.5px;left:776.72px;width:600px;text-align:center;">550</div>
<div class="fDVS lab" style="top:826.45px;left:123.77px;width:137.50px"><span class=lt>— Sulfate</span><span class=ld>........................................</span></div>
<div class="fDVS num" style="top:826.08px;font-size:12.5px;right:885.43px;text-align:right;">168</div>
<div class="fDVS num" style="top:826.30px;font-size:12.5px;right:830.83px;text-align:right;">102</div>
<div class="fDVS num" style="top:826.51px;font-size:12.5px;right:776.53px;text-align:right;">579</div>
<div class="fDVS num" style="top:826.71px;font-size:12.5px;right:728.03px;text-align:right;">1.159</div>
<div class="fDVS num" style="top:826.90px;font-size:12.5px;right:679.03px;text-align:right;">1.263</div>
<div class="fDVS num" style="top:827.10px;font-size:12.5px;right:630.53px;text-align:right;">1.271</div>
<div class="fDVS num" style="top:827.32px;font-size:12.5px;right:575.23px;text-align:right;">1.813</div>
<div class="fDVS dit" style="top:828.81px;font-size:11px;right:532.53px;text-align:right;">»</div>
<div class="fDVS dit" style="top:829.03px;font-size:11px;right:476.93px;text-align:right;">»</div>
<div class="fDVS num" style="top:827.98px;font-size:12.5px;right:411.13px;text-align:right;">17.166</div>
<div class="fDVS num" style="top:828.20px;font-size:12.5px;right:355.53px;text-align:right;">30.132</div>
<div class="fDVS num" style="top:828.42px;font-size:12.5px;right:299.83px;text-align:right;">8.893</div>
<div class="fDVS num" style="top:828.64px;font-size:12.5px;right:245.23px;text-align:right;">21.727</div>
<div class="fDVS num" style="top:828.86px;font-size:12.5px;right:190.63px;text-align:right;">22.820</div>
<div class="fDVS num" style="top:829.02px;font-size:12.5px;right:149.33px;text-align:right;">650</div>
<div class="fDVS num" style="top:829.12px;font-size:12.5px;left:776.77px;width:600px;text-align:center;">620</div>
<div class="fDVS lab" style="top:840.19px;left:123.83px;width:137.50px"><span class=lt><b>Etain</b>. Sels</span><span class=ld>........................................</span></div>
<div class="fDVS num" style="top:839.83px;font-size:12.5px;right:885.37px;text-align:right;">25</div>
<div class="fDVS num" style="top:840.05px;font-size:12.5px;right:830.77px;text-align:right;">123</div>
<div class="fDVS num" style="top:840.26px;font-size:12.5px;right:776.47px;text-align:right;">74</div>
<div class="fDVS num" style="top:840.46px;font-size:12.5px;right:727.97px;text-align:right;">51</div>
<div class="fDVS num" style="top:840.65px;font-size:12.5px;right:678.97px;text-align:right;">58</div>
<div class="fDVS num" style="top:840.85px;font-size:12.5px;right:630.47px;text-align:right;">80</div>
<div class="fDVS num" style="top:841.07px;font-size:12.5px;right:575.17px;text-align:right;">42</div>
<div class="fDVS dit" style="top:842.56px;font-size:11px;right:532.47px;text-align:right;">»</div>
<div class="fDVS dit" style="top:842.78px;font-size:11px;right:476.87px;text-align:right;">»</div>
<div class="fDVS num" style="top:841.72px;font-size:12.5px;right:411.07px;text-align:right;">7</div>
<div class="fDVS num" style="top:841.95px;font-size:12.5px;right:355.47px;text-align:right;">4</div>
<div class="fDVS num" style="top:842.17px;font-size:12.5px;right:299.77px;text-align:right;">7</div>
<div class="fDVS num" style="top:842.39px;font-size:12.5px;right:245.17px;text-align:right;">4</div>
<div class="fDVS num" style="top:842.61px;font-size:12.5px;right:190.57px;text-align:right;">8</div>
<div class="fDVS dit" style="top:844.05px;font-size:11px;right:151.27px;text-align:right;">»</div>
<div class="fDVS num" style="top:842.87px;font-size:12.5px;left:776.83px;width:600px;text-align:center;">125</div>
<div class="fDVS lab" style="top:853.94px;left:123.89px;width:137.50px"><span class=lt>— Oxyde</span><span class=ld>........................................</span></div>
<div class="fDVS dit" style="top:854.85px;font-size:11px;right:896.31px;text-align:right;">»</div>
<div class="fDVS dit" style="top:855.07px;font-size:11px;right:841.71px;text-align:right;">»</div>
<div class="fDVS num" style="top:854.01px;font-size:12.5px;right:776.41px;text-align:right;">4</div>
<div class="fDVS dit" style="top:855.48px;font-size:11px;right:738.91px;text-align:right;">«</div>
<div class="fDVS dit" style="top:855.68px;font-size:11px;right:689.91px;text-align:right;">»</div>
<div class="fDVS dit" style="top:855.87px;font-size:11px;right:641.41px;text-align:right;">»</div>
<div class="fDVS dit" style="top:856.09px;font-size:11px;right:586.11px;text-align:right;">»</div>
<div class="fDVS dit" style="top:856.31px;font-size:11px;right:532.41px;text-align:right;">»</div>
<div class="fDVS dit" style="top:856.53px;font-size:11px;right:476.81px;text-align:right;">»</div>
<div class="fDVS num" style="top:855.47px;font-size:12.5px;right:411.01px;text-align:right;">54</div>
<div class="fDVS num" style="top:855.70px;font-size:12.5px;right:355.41px;text-align:right;">188</div>
<div class="fDVS num" style="top:855.92px;font-size:12.5px;right:299.71px;text-align:right;">208</div>
<div class="fDVS num" style="top:856.14px;font-size:12.5px;right:245.11px;text-align:right;">168</div>
<div class="fDVS num" style="top:856.35px;font-size:12.5px;right:190.51px;text-align:right;">46</div>
<div class="fDVS dit" style="top:857.80px;font-size:11px;right:151.21px;text-align:right;">»</div>
<div class="fDVS num" style="top:856.62px;font-size:12.5px;left:776.89px;width:600px;text-align:center;">2.800</div>
<div class="fDVS lab" style="top:867.69px;left:123.95px;width:137.50px"><span class=lt><b>Fer</b>. Oxyde</span><span class=ld>........................................</span></div>
<div class="fDVS num" style="top:867.32px;font-size:12.5px;right:885.25px;text-align:right;">45</div>
<div class="fDVS num" style="top:867.54px;font-size:12.5px;right:830.65px;text-align:right;">394</div>
<div class="fDVS num" style="top:867.76px;font-size:12.5px;right:776.35px;text-align:right;">118</div>
<div class="fDVS num" style="top:867.95px;font-size:12.5px;right:727.85px;text-align:right;">85</div>
<div class="fDVS num" style="top:868.15px;font-size:12.5px;right:678.85px;text-align:right;">57</div>
<div class="fDVS num" style="top:868.34px;font-size:12.5px;right:630.35px;text-align:right;">87</div>
<div class="fDVS num" style="top:868.56px;font-size:12.5px;right:575.05px;text-align:right;">136</div>
<div class="fDVS num" style="top:868.78px;font-size:12.5px;right:521.35px;text-align:right;">64</div>
<div class="fDVS num" style="top:869.00px;font-size:12.5px;right:465.75px;text-align:right;">391</div>
<div class="fDVS num" style="top:869.22px;font-size:12.5px;right:410.95px;text-align:right;">611</div>
<div class="fDVS num" style="top:869.44px;font-size:12.5px;right:355.35px;text-align:right;">1.124</div>
<div class="fDVS num" style="top:869.67px;font-size:12.5px;right:299.65px;text-align:right;">1.020</div>
<div class="fDVS num" style="top:869.88px;font-size:12.5px;right:245.05px;text-align:right;">1.107</div>
<div class="fDVS num" style="top:870.10px;font-size:12.5px;right:190.45px;text-align:right;">1.021</div>
<div class="fDVS num" style="top:870.27px;font-size:12.5px;right:149.15px;text-align:right;">300</div>
<div class="fDVS num" style="top:870.36px;font-size:12.5px;left:776.95px;width:600px;text-align:center;">150</div>
<div class="fDVS lab" style="top:881.44px;left:124.00px;width:137.50px"><span class=lt>— Pyrolignite</span><span class=ld>........................................</span></div>
<div class="fDVS num" style="top:881.07px;font-size:12.5px;right:885.20px;text-align:right;">347</div>
<div class="fDVS num" style="top:881.29px;font-size:12.5px;right:830.60px;text-align:right;">832</div>
<div class="fDVS num" style="top:881.51px;font-size:12.5px;right:776.30px;text-align:right;">1.013</div>
<div class="fDVS num" style="top:881.70px;font-size:12.5px;right:727.80px;text-align:right;">1.049</div>
<div class="fDVS num" style="top:881.90px;font-size:12.5px;right:678.80px;text-align:right;">852</div>
<div class="fDVS num" style="top:882.09px;font-size:12.5px;right:630.30px;text-align:right;">838</div>
<div class="fDVS num" style="top:882.31px;font-size:12.5px;right:575.00px;text-align:right;">779</div>
<div class="fDVS dit" style="top:883.81px;font-size:11px;right:532.30px;text-align:right;">»</div>
<div class="fDVS dit" style="top:884.03px;font-size:11px;right:476.70px;text-align:right;">»</div>
<div class="fDVS num" style="top:882.97px;font-size:12.5px;right:410.90px;text-align:right;">5</div>
<div class="fDVS dit" style="top:884.47px;font-size:11px;right:366.30px;text-align:right;">»</div>
<div class="fDVS dit" style="top:884.69px;font-size:11px;right:310.60px;text-align:right;">»</div>
<div class="fDVS dit" style="top:884.91px;font-size:11px;right:256.00px;text-align:right;">»</div>
<div class="fDVS dit" style="top:885.13px;font-size:11px;right:201.40px;text-align:right;">»</div>
<div class="fDVS num" style="top:884.02px;font-size:12.5px;right:149.10px;text-align:right;">100</div>
<div class="fDVS num" style="top:884.11px;font-size:12.5px;right:113.00px;text-align:right;">60</div>
<div class="fDVS lab" style="top:895.19px;left:124.06px;width:137.50px"><span class=lt>— Sulfate</span><span class=ld>........................................</span></div>
<div class="fDVS num" style="top:894.82px;font-size:12.5px;right:885.14px;text-align:right;">3.272</div>
<div class="fDVS num" style="top:895.04px;font-size:12.5px;right:830.54px;text-align:right;">1.412</div>
<div class="fDVS num" style="top:895.26px;font-size:12.5px;right:776.24px;text-align:right;">1.488</div>
<div class="fDVS num" style="top:895.45px;font-size:12.5px;right:727.74px;text-align:right;">1.509</div>
<div class="fDVS num" style="top:895.65px;font-size:12.5px;right:678.74px;text-align:right;">1.343</div>
<div class="fDVS num" style="top:895.84px;font-size:12.5px;right:630.24px;text-align:right;">1.534</div>
<div class="fDVS num" style="top:896.06px;font-size:12.5px;right:574.94px;text-align:right;">1.046</div>
<div class="fDVS dit" style="top:897.55px;font-size:11px;right:532.24px;text-align:right;">»</div>
<div class="fDVS dit" style="top:897.78px;font-size:11px;right:476.64px;text-align:right;">»</div>
<div class="fDVS num" style="top:896.72px;font-size:12.5px;right:410.84px;text-align:right;">3.203</div>
<div class="fDVS num" style="top:896.94px;font-size:12.5px;right:355.24px;text-align:right;">1.353</div>
<div class="fDVS num" style="top:897.16px;font-size:12.5px;right:299.54px;text-align:right;">896</div>
<div class="fDVS num" style="top:897.38px;font-size:12.5px;right:244.94px;text-align:right;">1.699</div>
<div class="fDVS num" style="top:897.60px;font-size:12.5px;right:190.34px;text-align:right;">1.588</div>
<div class="fDVS num" style="top:897.76px;font-size:12.5px;right:149.04px;text-align:right;">90</div>
<div class="fDVS num" style="top:897.86px;font-size:12.5px;right:112.94px;text-align:right;">60</div>
<div class="fDVS lab" style="top:908.93px;left:124.12px;width:137.50px"><span class=lt><b>Iode</b></span><span class=ld>........................................</span></div>
<div class="fDVS num" style="top:908.57px;font-size:12.5px;right:885.08px;text-align:right;">7</div>
<div class="fDVS num" style="top:908.79px;font-size:12.5px;right:830.48px;text-align:right;">2</div>
<div class="fDVS num" style="top:909.00px;font-size:12.5px;right:776.18px;text-align:right;">1</div>
<div class="fDVS num" style="top:909.20px;font-size:12.5px;right:727.68px;text-align:right;">0,4</div>
<div class="fDVS num" style="top:909.39px;font-size:12.5px;right:678.68px;text-align:right;">0,4</div>
<div class="fDVS num" style="top:909.59px;font-size:12.5px;right:630.18px;text-align:right;">0,4</div>
<div class="fDVS num" style="top:909.81px;font-size:12.5px;right:574.88px;text-align:right;">0,3</div>
<div class="fDVS num" style="top:910.02px;font-size:12.5px;right:521.18px;text-align:right;">14</div>
<div class="fDVS num" style="top:910.25px;font-size:12.5px;right:465.58px;text-align:right;">9</div>
<div class="fDVS num" style="top:910.47px;font-size:12.5px;right:410.78px;text-align:right;">6</div>
<div class="fDVS num" style="top:910.69px;font-size:12.5px;right:355.18px;text-align:right;">5</div>
<div class="fDVS num" style="top:910.91px;font-size:12.5px;right:299.48px;text-align:right;">0,3</div>
<div class="fDVS num" style="top:911.13px;font-size:12.5px;right:244.88px;text-align:right;">0,5</div>
<div class="fDVS num" style="top:911.35px;font-size:12.5px;right:190.28px;text-align:right;">0,4</div>
<div class="fDVS num" style="top:911.51px;font-size:12.5px;right:148.98px;text-align:right;">32 (<span class=sc>A</span>)</div>
<div class="fDVS num" style="top:911.61px;font-size:12.5px;left:777.12px;width:600px;text-align:center;">26 (<span class=sc>A</span>)</div>
<div class="fDVS lab" style="top:922.68px;left:124.18px;width:137.50px"><span class=lt>— Iodures (3)</span><span class=ld>........................................</span></div>
<div class="fDVS dit" style="top:923.59px;font-size:11px;right:896.02px;text-align:right;">»</div>
<div class="fDVS num" style="top:922.54px;font-size:12.5px;right:830.42px;text-align:right;">26</div>
<div class="fDVS num" style="top:922.75px;font-size:12.5px;right:776.12px;text-align:right;">5</div>
<div class="fDVS num" style="top:922.95px;font-size:12.5px;right:727.62px;text-align:right;">6,9</div>
<div class="fDVS num" style="top:923.14px;font-size:12.5px;right:678.62px;text-align:right;">1,8</div>
<div class="fDVS num" style="top:923.34px;font-size:12.5px;right:630.12px;text-align:right;">30</div>
<div class="fDVS num" style="top:923.56px;font-size:12.5px;right:574.82px;text-align:right;">42</div>
<div class="fDVS dit" style="top:925.05px;font-size:11px;right:532.12px;text-align:right;">»</div>
<div class="fDVS dit" style="top:925.27px;font-size:11px;right:476.52px;text-align:right;">»</div>
<div class="fDVS num" style="top:924.21px;font-size:12.5px;right:410.72px;text-align:right;">0,5</div>
<div class="fDVS num" style="top:924.44px;font-size:12.5px;right:355.12px;text-align:right;">0,3</div>
<div class="fDVS num" style="top:924.66px;font-size:12.5px;right:299.42px;text-align:right;">0,4</div>
<div class="fDVS num" style="top:924.88px;font-size:12.5px;right:244.82px;text-align:right;">0,4</div>
<div class="fDVS dit" style="top:926.37px;font-size:11px;right:201.22px;text-align:right;">»</div>
<div class="fDVS num" style="top:925.26px;font-size:12.5px;right:148.92px;text-align:right;">28 (<span class=sc>A</span>)</div>
<div class="fDVS num" style="top:925.36px;font-size:12.5px;left:777.18px;width:600px;text-align:center;">28 (<span class=sc>A</span>)</div>
<div class="fDVS lab" style="top:936.43px;left:124.23px;width:137.50px"><span class=lt><b>Magnésium</b>. <span class=cb>Carbon.</span></span></div>
<div class="fDVS num" style="top:936.07px;font-size:12.5px;right:884.97px;text-align:right;">10</div>
<div class="fDVS num" style="top:936.28px;font-size:12.5px;right:830.37px;text-align:right;">11</div>
<div class="fDVS num" style="top:936.50px;font-size:12.5px;right:776.07px;text-align:right;">10</div>
<div class="fDVS num" style="top:936.69px;font-size:12.5px;right:727.57px;text-align:right;">11</div>
<div class="fDVS num" style="top:936.89px;font-size:12.5px;right:678.57px;text-align:right;">3</div>
<div class="fDVS num" style="top:937.08px;font-size:12.5px;right:630.07px;text-align:right;">15</div>
<div class="fDVS num" style="top:937.31px;font-size:12.5px;right:574.77px;text-align:right;">19</div>
<div class="fDVS num" style="top:937.52px;font-size:12.5px;right:521.07px;text-align:right;">24</div>
<div class="fDVS num" style="top:937.74px;font-size:12.5px;right:465.47px;text-align:right;">30</div>
<div class="fDVS num" style="top:937.96px;font-size:12.5px;right:410.67px;text-align:right;">35</div>
<div class="fDVS num" style="top:938.18px;font-size:12.5px;right:355.07px;text-align:right;">135</div>
<div class="fDVS num" style="top:938.41px;font-size:12.5px;right:299.37px;text-align:right;">129</div>
<div class="fDVS num" style="top:938.63px;font-size:12.5px;right:244.77px;text-align:right;">198</div>
<div class="fDVS num" style="top:938.84px;font-size:12.5px;right:190.17px;text-align:right;">161</div>
<div class="fDVS num" style="top:939.01px;font-size:12.5px;right:148.87px;text-align:right;">1.100</div>
<div class="fDVS num" style="top:939.10px;font-size:12.5px;left:777.23px;width:600px;text-align:center;">650</div>
<div class="fDVS lab" style="top:950.18px;left:124.29px;width:137.50px"><span class=lt>— Chlorure</span><span class=ld>........................................</span></div>
<div class="fDVS dit" style="top:951.09px;font-size:11px;right:895.91px;text-align:right;">»</div>
<div class="fDVS num" style="top:950.03px;font-size:12.5px;right:830.31px;text-align:right;">55</div>
<div class="fDVS num" style="top:950.25px;font-size:12.5px;right:776.01px;text-align:right;">52</div>
<div class="fDVS num" style="top:950.44px;font-size:12.5px;right:727.51px;text-align:right;">24</div>
<div class="fDVS num" style="top:950.64px;font-size:12.5px;right:678.51px;text-align:right;">24</div>
<div class="fDVS num" style="top:950.83px;font-size:12.5px;right:630.01px;text-align:right;">41</div>
<div class="fDVS num" style="top:951.05px;font-size:12.5px;right:574.71px;text-align:right;">18</div>
<div class="fDVS dit" style="top:952.55px;font-size:11px;right:532.01px;text-align:right;">»</div>
<div class="fDVS dit" style="top:952.77px;font-size:11px;right:476.41px;text-align:right;">»</div>
<div class="fDVS num" style="top:951.71px;font-size:12.5px;right:410.61px;text-align:right;">590</div>
<div class="fDVS dit" style="top:953.21px;font-size:11px;right:366.01px;text-align:right;">»</div>
<div class="fDVS dit" style="top:953.43px;font-size:11px;right:310.31px;text-align:right;">»</div>
<div class="fDVS dit" style="top:953.65px;font-size:11px;right:255.71px;text-align:right;">»</div>
<div class="fDVS dit" style="top:953.87px;font-size:11px;right:201.11px;text-align:right;">»</div>
<div class="fDVS num" style="top:952.76px;font-size:12.5px;right:148.81px;text-align:right;">250</div>
<div class="fDVS num" style="top:952.85px;font-size:12.5px;right:112.71px;text-align:right;">70</div>
<div class="fDVS lab" style="top:963.93px;left:124.35px;width:137.50px"><span class=lt>— Oxyde</span><span class=ld>........................................</span></div>
<div class="fDVS dit" style="top:964.84px;font-size:11px;right:895.85px;text-align:right;">»</div>
<div class="fDVS dit" style="top:965.06px;font-size:11px;right:841.25px;text-align:right;">»</div>
<div class="fDVS num" style="top:964.00px;font-size:12.5px;right:775.95px;text-align:right;">19</div>
<div class="fDVS num" style="top:964.19px;font-size:12.5px;right:727.45px;text-align:right;">70</div>
<div class="fDVS num" style="top:964.39px;font-size:12.5px;right:678.45px;text-align:right;">52</div>
<div class="fDVS num" style="top:964.58px;font-size:12.5px;right:629.95px;text-align:right;">57</div>
<div class="fDVS num" style="top:964.80px;font-size:12.5px;right:574.65px;text-align:right;">32</div>
<div class="fDVS dit" style="top:966.29px;font-size:11px;right:531.95px;text-align:right;">»</div>
<div class="fDVS dit" style="top:966.52px;font-size:11px;right:476.35px;text-align:right;">»</div>
<div class="fDVS num" style="top:965.46px;font-size:12.5px;right:410.55px;text-align:right;">11</div>
<div class="fDVS dit" style="top:966.96px;font-size:11px;right:365.95px;text-align:right;">»</div>
<div class="fDVS dit" style="top:967.18px;font-size:11px;right:310.25px;text-align:right;">»</div>
<div class="fDVS dit" style="top:967.40px;font-size:11px;right:255.65px;text-align:right;">»</div>
<div class="fDVS dit" style="top:967.62px;font-size:11px;right:201.05px;text-align:right;">»</div>
<div class="fDVS dit" style="top:967.78px;font-size:11px;right:150.75px;text-align:right;">»</div>
<div class="fDVS num" style="top:966.60px;font-size:12.5px;left:777.35px;width:600px;text-align:center;">2.000</div>
<div class="fDVS lab" style="top:977.67px;left:124.40px;width:137.50px"><span class=lt>— Sulfate</span><span class=ld>........................................</span></div>
<div class="fDVS num" style="top:977.31px;font-size:12.5px;right:884.80px;text-align:right;">139</div>
<div class="fDVS num" style="top:977.53px;font-size:12.5px;right:830.20px;text-align:right;">139</div>
<div class="fDVS num" style="top:977.75px;font-size:12.5px;right:775.90px;text-align:right;">232</div>
<div class="fDVS num" style="top:977.94px;font-size:12.5px;right:727.40px;text-align:right;">323</div>
<div class="fDVS num" style="top:978.14px;font-size:12.5px;right:678.40px;text-align:right;">208</div>
<div class="fDVS num" style="top:978.33px;font-size:12.5px;right:629.90px;text-align:right;">749</div>
<div class="fDVS num" style="top:978.55px;font-size:12.5px;right:574.60px;text-align:right;">459</div>
<div class="fDVS num" style="top:978.77px;font-size:12.5px;right:520.90px;text-align:right;">50</div>
<div class="fDVS num" style="top:978.99px;font-size:12.5px;right:465.30px;text-align:right;">131</div>
<div class="fDVS num" style="top:979.21px;font-size:12.5px;right:410.50px;text-align:right;">610</div>
<div class="fDVS num" style="top:979.43px;font-size:12.5px;right:354.90px;text-align:right;">1.317</div>
<div class="fDVS num" style="top:979.65px;font-size:12.5px;right:299.20px;text-align:right;">1.251</div>
<div class="fDVS num" style="top:979.87px;font-size:12.5px;right:244.60px;text-align:right;">1.867</div>
<div class="fDVS num" style="top:980.09px;font-size:12.5px;right:190.00px;text-align:right;">1.644</div>
<div class="fDVS num" style="top:980.25px;font-size:12.5px;right:148.70px;text-align:right;">200</div>
<div class="fDVS num" style="top:980.35px;font-size:12.5px;right:112.60px;text-align:right;">30</div>
<div class="fDVS lab" style="top:991.42px;left:124.46px;width:137.50px"><span class=lt><b>Phosphore</b></span><span class=ld>........................................</span></div>
<div class="fDVS dit" style="top:992.34px;font-size:11px;right:895.74px;text-align:right;">»</div>
<div class="fDVS num" style="top:991.28px;font-size:12.5px;right:830.14px;text-align:right;">69</div>
<div class="fDVS num" style="top:991.49px;font-size:12.5px;right:775.84px;text-align:right;">174</div>
<div class="fDVS num" style="top:991.69px;font-size:12.5px;right:727.34px;text-align:right;">228</div>
<div class="fDVS num" style="top:991.88px;font-size:12.5px;right:678.34px;text-align:right;">203</div>
<div class="fDVS num" style="top:992.08px;font-size:12.5px;right:629.84px;text-align:right;">270</div>
<div class="fDVS num" style="top:992.30px;font-size:12.5px;right:574.54px;text-align:right;">294</div>
<div class="fDVS num" style="top:992.51px;font-size:12.5px;right:520.84px;text-align:right;">33</div>
<div class="fDVS num" style="top:992.74px;font-size:12.5px;right:465.24px;text-align:right;">3</div>
<div class="fDVS num" style="top:992.96px;font-size:12.5px;right:410.44px;text-align:right;">4</div>
<div class="fDVS num" style="top:993.18px;font-size:12.5px;right:354.84px;text-align:right;">0,8</div>
<div class="fDVS num" style="top:993.40px;font-size:12.5px;right:299.14px;text-align:right;">0,8</div>
<div class="fDVS num" style="top:993.62px;font-size:12.5px;right:244.54px;text-align:right;">1</div>
<div class="fDVS num" style="top:993.84px;font-size:12.5px;right:189.94px;text-align:right;">4</div>
<div class="fDVS num" style="top:994.00px;font-size:12.5px;right:148.64px;text-align:right;">4.500</div>
<div class="fDVS num" style="top:994.10px;font-size:12.5px;left:777.46px;width:600px;text-align:center;">4.500</div>
<div class="fDVS lab" style="top:1005.17px;left:124.51px;width:137.50px"><span class=lt><b>Plomb</b>. Acétate</span><span class=ld>........................................</span></div>
<div class="fDVS num" style="top:1004.81px;font-size:12.5px;right:884.69px;text-align:right;">300</div>
<div class="fDVS num" style="top:1005.02px;font-size:12.5px;right:830.09px;text-align:right;">272</div>
<div class="fDVS num" style="top:1005.24px;font-size:12.5px;right:775.79px;text-align:right;">223</div>
<div class="fDVS num" style="top:1005.44px;font-size:12.5px;right:727.29px;text-align:right;">297</div>
<div class="fDVS num" style="top:1005.63px;font-size:12.5px;right:678.29px;text-align:right;">65</div>
<div class="fDVS num" style="top:1005.83px;font-size:12.5px;right:629.79px;text-align:right;">8</div>
<div class="fDVS num" style="top:1006.05px;font-size:12.5px;right:574.49px;text-align:right;">4</div>
<div class="fDVS dit" style="top:1007.54px;font-size:11px;right:531.79px;text-align:right;">»</div>
<div class="fDVS dit" style="top:1007.76px;font-size:11px;right:476.19px;text-align:right;">»</div>
<div class="fDVS num" style="top:1006.70px;font-size:12.5px;right:410.39px;text-align:right;">61</div>
<div class="fDVS num" style="top:1006.93px;font-size:12.5px;right:354.79px;text-align:right;">91</div>
<div class="fDVS num" style="top:1007.15px;font-size:12.5px;right:299.09px;text-align:right;">38</div>
<div class="fDVS num" style="top:1007.37px;font-size:12.5px;right:244.49px;text-align:right;">29</div>
<div class="fDVS num" style="top:1007.59px;font-size:12.5px;right:189.89px;text-align:right;">60</div>
<div class="fDVS num" style="top:1007.75px;font-size:12.5px;right:148.59px;text-align:right;">1.000</div>
<div class="fDVS num" style="top:1007.84px;font-size:12.5px;left:777.51px;width:600px;text-align:center;">620</div>
<div class="fDVS lab" style="top:1018.92px;left:124.53px;width:137.50px"><span class=lt>— Carbonate</span><span class=ld>........................................</span></div>
<div class="fDVS num" style="top:1018.55px;font-size:12.5px;right:884.67px;text-align:right;">559</div>
<div class="fDVS num" style="top:1018.77px;font-size:12.5px;right:830.07px;text-align:right;">1.082</div>
<div class="fDVS num" style="top:1018.99px;font-size:12.5px;right:775.77px;text-align:right;">1.226</div>
<div class="fDVS num" style="top:1019.18px;font-size:12.5px;right:727.27px;text-align:right;">2 250</div>
<div class="fDVS num" style="top:1019.38px;font-size:12.5px;right:678.27px;text-align:right;">717</div>
<div class="fDVS num" style="top:1019.57px;font-size:12.5px;right:629.77px;text-align:right;">212</div>
<div class="fDVS num" style="top:1019.80px;font-size:12.5px;right:574.47px;text-align:right;">166</div>
<div class="fDVS num" style="top:1020.01px;font-size:12.5px;right:520.77px;text-align:right;">394</div>
<div class="fDVS num" style="top:1020.23px;font-size:12.5px;right:465.17px;text-align:right;">897</div>
<div class="fDVS num" style="top:1020.45px;font-size:12.5px;right:410.37px;text-align:right;">759</div>
<div class="fDVS num" style="top:1020.67px;font-size:12.5px;right:354.77px;text-align:right;">1.327</div>
<div class="fDVS num" style="top:1020.90px;font-size:12.5px;right:299.07px;text-align:right;">1.385</div>
<div class="fDVS num" style="top:1021.12px;font-size:12.5px;right:244.47px;text-align:right;">2.029</div>
<div class="fDVS num" style="top:1021.33px;font-size:12.5px;right:189.87px;text-align:right;">1.739</div>
<div class="fDVS num" style="top:1021.50px;font-size:12.5px;right:148.57px;text-align:right;">700</div>
<div class="fDVS num" style="top:1021.59px;font-size:12.5px;left:777.53px;width:600px;text-align:center;">490</div>
<div class="fDVS lab" style="top:1032.67px;left:124.56px;width:137.50px"><span class=lt>— Chromates</span><span class=ld>........................................</span></div>
<div class="fDVS num" style="top:1032.30px;font-size:12.5px;right:884.64px;text-align:right;">38</div>
<div class="fDVS num" style="top:1032.52px;font-size:12.5px;right:830.04px;text-align:right;">25</div>
<div class="fDVS num" style="top:1032.74px;font-size:12.5px;right:775.74px;text-align:right;">16</div>
<div class="fDVS num" style="top:1032.93px;font-size:12.5px;right:727.24px;text-align:right;">350</div>
<div class="fDVS num" style="top:1033.13px;font-size:12.5px;right:678.24px;text-align:right;">42</div>
<div class="fDVS num" style="top:1033.32px;font-size:12.5px;right:629.74px;text-align:right;">14</div>
<div class="fDVS num" style="top:1033.54px;font-size:12.5px;right:574.44px;text-align:right;">2</div>
<div class="fDVS dit" style="top:1035.04px;font-size:11px;right:531.74px;text-align:right;">»</div>
<div class="fDVS dit" style="top:1035.26px;font-size:11px;right:476.14px;text-align:right;">»</div>
<div class="fDVS num" style="top:1034.20px;font-size:12.5px;right:410.34px;text-align:right;">30</div>
<div class="fDVS num" style="top:1034.42px;font-size:12.5px;right:354.74px;text-align:right;">39</div>
<div class="fDVS num" style="top:1034.64px;font-size:12.5px;right:299.04px;text-align:right;">38</div>
<div class="fDVS num" style="top:1034.86px;font-size:12.5px;right:244.44px;text-align:right;">37</div>
<div class="fDVS num" style="top:1035.08px;font-size:12.5px;right:189.84px;text-align:right;">38</div>
<div class="fDVS num" style="top:1035.25px;font-size:12.5px;right:148.54px;text-align:right;">1.000</div>
<div class="fDVS num" style="top:1035.34px;font-size:12.5px;left:777.56px;width:600px;text-align:center;">1.100</div>
<div class="fDVS lab" style="top:1046.41px;left:124.58px;width:137.50px"><span class=lt>— Oxyde</span><span class=ld>........................................</span></div>
<div class="fDVS num" style="top:1046.05px;font-size:12.5px;right:884.62px;text-align:right;">505</div>
<div class="fDVS num" style="top:1046.27px;font-size:12.5px;right:830.02px;text-align:right;">604</div>
<div class="fDVS num" style="top:1046.49px;font-size:12.5px;right:775.72px;text-align:right;">811</div>
<div class="fDVS num" style="top:1046.68px;font-size:12.5px;right:727.22px;text-align:right;">988</div>
<div class="fDVS num" style="top:1046.88px;font-size:12.5px;right:678.22px;text-align:right;">558</div>
<div class="fDVS num" style="top:1047.07px;font-size:12.5px;right:629.72px;text-align:right;">321</div>
<div class="fDVS num" style="top:1047.29px;font-size:12.5px;right:574.42px;text-align:right;">368</div>
<div class="fDVS num" style="top:1047.51px;font-size:12.5px;right:520.72px;text-align:right;">827</div>
<div class="fDVS num" style="top:1047.73px;font-size:12.5px;right:465.12px;text-align:right;">1.687</div>
<div class="fDVS num" style="top:1047.95px;font-size:12.5px;right:410.32px;text-align:right;">2.303</div>
<div class="fDVS num" style="top:1048.17px;font-size:12.5px;right:354.72px;text-align:right;">1.758</div>
<div class="fDVS num" style="top:1048.39px;font-size:12.5px;right:299.02px;text-align:right;">1.873</div>
<div class="fDVS num" style="top:1048.61px;font-size:12.5px;right:244.42px;text-align:right;">1.807</div>
<div class="fDVS num" style="top:1048.83px;font-size:12.5px;right:189.82px;text-align:right;">1.284</div>
<div class="fDVS num" style="top:1048.99px;font-size:12.5px;right:148.52px;text-align:right;">580</div>
<div class="fDVS num" style="top:1049.09px;font-size:12.5px;left:777.58px;width:600px;text-align:center;">460</div>
<div class="fDVS lab" style="top:1060.16px;left:124.60px;width:137.50px"><span class=lt>— Pyrolignite</span><span class=ld>........................................</span></div>
<div class="fDVS dit" style="top:1061.08px;font-size:11px;right:895.60px;text-align:right;">»</div>
<div class="fDVS num" style="top:1060.02px;font-size:12.5px;right:830.00px;text-align:right;">134</div>
<div class="fDVS num" style="top:1060.23px;font-size:12.5px;right:775.70px;text-align:right;">43</div>
<div class="fDVS num" style="top:1060.43px;font-size:12.5px;right:727.20px;text-align:right;">211</div>
<div class="fDVS num" style="top:1060.62px;font-size:12.5px;right:678.20px;text-align:right;">78</div>
<div class="fDVS num" style="top:1060.82px;font-size:12.5px;right:629.70px;text-align:right;">0,4</div>
<div class="fDVS num" style="top:1061.04px;font-size:12.5px;right:574.40px;text-align:right;">1,1</div>
<div class="fDVS dit" style="top:1062.53px;font-size:11px;right:531.70px;text-align:right;">»</div>
<div class="fDVS dit" style="top:1062.75px;font-size:11px;right:476.10px;text-align:right;">»</div>
<div class="fDVS dit" style="top:1062.97px;font-size:11px;right:421.30px;text-align:right;">»</div>
<div class="fDVS dit" style="top:1063.20px;font-size:11px;right:365.70px;text-align:right;">»</div>
<div class="fDVS dit" style="top:1063.42px;font-size:11px;right:310.00px;text-align:right;">»</div>
<div class="fDVS dit" style="top:1063.64px;font-size:11px;right:255.40px;text-align:right;">»</div>
<div class="fDVS dit" style="top:1063.86px;font-size:11px;right:200.80px;text-align:right;">»</div>
<div class="fDVS dit" style="top:1064.02px;font-size:11px;right:150.50px;text-align:right;">»</div>
<div class="fDVS num" style="top:1062.84px;font-size:12.5px;left:777.60px;width:600px;text-align:center;">450</div>
<div class="fDVS lab" style="top:1073.91px;left:124.63px;width:137.50px"><span class=lt>— Sels (4)</span><span class=ld>........................................</span></div>
<div class="fDVS dit" style="top:1074.82px;font-size:11px;right:895.57px;text-align:right;">»</div>
<div class="fDVS dit" style="top:1075.04px;font-size:11px;right:840.97px;text-align:right;">«</div>
<div class="fDVS dit" style="top:1075.26px;font-size:11px;right:786.67px;text-align:right;">»</div>
<div class="fDVS dit" style="top:1075.45px;font-size:11px;right:738.17px;text-align:right;">»</div>
<div class="fDVS num" style="top:1074.37px;font-size:12.5px;right:678.17px;text-align:right;">41</div>
<div class="fDVS num" style="top:1074.57px;font-size:12.5px;right:629.67px;text-align:right;">28</div>
<div class="fDVS num" style="top:1074.79px;font-size:12.5px;right:574.37px;text-align:right;">50</div>
<div class="fDVS dit" style="top:1076.28px;font-size:11px;right:531.67px;text-align:right;">»</div>
<div class="fDVS dit" style="top:1076.50px;font-size:11px;right:476.07px;text-align:right;">»</div>
<div class="fDVS dit" style="top:1076.72px;font-size:11px;right:421.27px;text-align:right;">»</div>
<div class="fDVS dit" style="top:1076.94px;font-size:11px;right:365.67px;text-align:right;">»</div>
<div class="fDVS num" style="top:1075.89px;font-size:12.5px;right:298.97px;text-align:right;">58</div>
<div class="fDVS num" style="top:1076.11px;font-size:12.5px;right:244.37px;text-align:right;">87</div>
<div class="fDVS num" style="top:1076.33px;font-size:12.5px;right:189.77px;text-align:right;">122</div>
<div class="fDVS dit" style="top:1077.77px;font-size:11px;right:150.47px;text-align:right;">»</div>
<div class="fDVS num" style="top:1076.58px;font-size:12.5px;left:777.63px;width:600px;text-align:center;">600</div>
<div class="fDVS lab" style="top:1087.66px;left:124.65px;width:137.50px"><span class=lt><b>Potassium</b> .</span></div>
<div class="fDVS lab" style="top:1101.41px;left:124.67px;width:137.50px"><span class=lt>— KOH et carbonate.</span></div>
<div class="fDVS num" style="top:1101.04px;font-size:12.5px;right:884.53px;text-align:right;">6.491</div>
<div class="fDVS num" style="top:1101.26px;font-size:12.5px;right:829.93px;text-align:right;">11.201</div>
<div class="fDVS num" style="top:1101.48px;font-size:12.5px;right:775.63px;text-align:right;">13.031</div>
<div class="fDVS num" style="top:1101.67px;font-size:12.5px;right:727.13px;text-align:right;">14.372</div>
<div class="fDVS num" style="top:1101.87px;font-size:12.5px;right:678.13px;text-align:right;">13.065</div>
<div class="fDVS num" style="top:1102.06px;font-size:12.5px;right:629.63px;text-align:right;">10.579</div>
<div class="fDVS num" style="top:1102.28px;font-size:12.5px;right:574.33px;text-align:right;">8 777</div>
<div class="fDVS num" style="top:1102.50px;font-size:12.5px;right:520.63px;text-align:right;">1.678</div>
<div class="fDVS num" style="top:1102.72px;font-size:12.5px;right:465.03px;text-align:right;">1.038</div>
<div class="fDVS num" style="top:1102.94px;font-size:12.5px;right:410.23px;text-align:right;">1.525</div>
<div class="fDVS num" style="top:1103.16px;font-size:12.5px;right:354.63px;text-align:right;">1.768</div>
<div class="fDVS num" style="top:1103.39px;font-size:12.5px;right:298.93px;text-align:right;">2.424</div>
<div class="fDVS num" style="top:1103.60px;font-size:12.5px;right:244.33px;text-align:right;">2.779</div>
<div class="fDVS num" style="top:1103.82px;font-size:12.5px;right:189.73px;text-align:right;">2.767</div>
<div class="fDVS num" style="top:1103.99px;font-size:12.5px;right:148.43px;text-align:right;">800</div>
<div class="fDVS num" style="top:1104.08px;font-size:12.5px;left:777.67px;width:600px;text-align:center;">400</div>
<div class="fDVS lab" style="top:1115.15px;left:124.70px;width:137.50px"><span class=lt>— Chlorate</span><span class=ld>........................................</span></div>
<div class="fDVS num" style="top:1114.79px;font-size:12.5px;right:884.50px;text-align:right;">199</div>
<div class="fDVS num" style="top:1115.01px;font-size:12.5px;right:829.90px;text-align:right;">291</div>
<div class="fDVS num" style="top:1115.23px;font-size:12.5px;right:775.60px;text-align:right;">292</div>
<div class="fDVS num" style="top:1115.42px;font-size:12.5px;right:727.10px;text-align:right;">884</div>
<div class="fDVS num" style="top:1115.62px;font-size:12.5px;right:678.10px;text-align:right;">1.023</div>
<div class="fDVS num" style="top:1115.81px;font-size:12.5px;right:629.60px;text-align:right;">434</div>
<div class="fDVS num" style="top:1116.03px;font-size:12.5px;right:574.30px;text-align:right;">966</div>
<div class="fDVS dit" style="top:1117.52px;font-size:11px;right:531.60px;text-align:right;">»</div>
<div class="fDVS dit" style="top:1117.75px;font-size:11px;right:476.00px;text-align:right;">»</div>
<div class="fDVS num" style="top:1116.69px;font-size:12.5px;right:410.20px;text-align:right;">8</div>
<div class="fDVS dit" style="top:1118.19px;font-size:11px;right:365.60px;text-align:right;">»</div>
<div class="fDVS dit" style="top:1118.41px;font-size:11px;right:309.90px;text-align:right;">»</div>
<div class="fDVS dit" style="top:1118.63px;font-size:11px;right:255.30px;text-align:right;">»</div>
<div class="fDVS dit" style="top:1118.85px;font-size:11px;right:200.70px;text-align:right;">»</div>
<div class="fDVS num" style="top:1117.74px;font-size:12.5px;right:148.40px;text-align:right;">3.100</div>
<div class="fDVS num" style="top:1117.83px;font-size:12.5px;left:777.70px;width:600px;text-align:center;">800</div>
<div class="fDVS lab" style="top:1128.90px;left:124.72px;width:137.50px"><span class=lt>— Chlorure</span><span class=ld>........................................</span></div>
<div class="fDVS num" style="top:1128.54px;font-size:12.5px;right:884.48px;text-align:right;">1.845</div>
<div class="fDVS num" style="top:1128.76px;font-size:12.5px;right:829.88px;text-align:right;">788</div>
<div class="fDVS num" style="top:1128.97px;font-size:12.5px;right:775.58px;text-align:right;">239</div>
<div class="fDVS num" style="top:1129.17px;font-size:12.5px;right:727.08px;text-align:right;">175</div>
<div class="fDVS num" style="top:1129.36px;font-size:12.5px;right:678.08px;text-align:right;">173</div>
<div class="fDVS num" style="top:1129.56px;font-size:12.5px;right:629.58px;text-align:right;">224</div>
<div class="fDVS num" style="top:1129.78px;font-size:12.5px;right:574.28px;text-align:right;">239</div>
<div class="fDVS num" style="top:1129.99px;font-size:12.5px;right:520.58px;text-align:right;">2.795</div>
<div class="fDVS num" style="top:1130.22px;font-size:12.5px;right:464.98px;text-align:right;">4.727</div>
<div class="fDVS num" style="top:1130.44px;font-size:12.5px;right:410.18px;text-align:right;">10.625</div>
<div class="fDVS num" style="top:1130.66px;font-size:12.5px;right:354.58px;text-align:right;">11.630</div>
<div class="fDVS num" style="top:1130.88px;font-size:12.5px;right:298.88px;text-align:right;">11.300</div>
<div class="fDVS num" style="top:1131.10px;font-size:12.5px;right:244.28px;text-align:right;">13.333</div>
<div class="fDVS num" style="top:1131.32px;font-size:12.5px;right:189.68px;text-align:right;">13.524</div>
<div class="fDVS num" style="top:1131.48px;font-size:12.5px;right:148.38px;text-align:right;">180</div>
<div class="fDVS num" style="top:1131.58px;font-size:12.5px;left:777.72px;width:600px;text-align:center;">170</div>
<div class="fDVS lab" style="top:1142.65px;left:124.74px;width:137.50px"><span class=lt>— Chromates (5)</span><span class=ld>........................................</span></div>
<div class="fDVS num" style="top:1142.29px;font-size:12.5px;right:884.46px;text-align:right;">66</div>
<div class="fDVS num" style="top:1142.51px;font-size:12.5px;right:829.86px;text-align:right;">7</div>
<div class="fDVS num" style="top:1142.72px;font-size:12.5px;right:775.56px;text-align:right;">9</div>
<div class="fDVS num" style="top:1142.92px;font-size:12.5px;right:727.06px;text-align:right;">15</div>
<div class="fDVS num" style="top:1143.11px;font-size:12.5px;right:678.06px;text-align:right;">19</div>
<div class="fDVS num" style="top:1143.31px;font-size:12.5px;right:629.56px;text-align:right;">17</div>
<div class="fDVS num" style="top:1143.53px;font-size:12.5px;right:574.26px;text-align:right;">30</div>
<div class="fDVS dit" style="top:1145.02px;font-size:11px;right:531.56px;text-align:right;">»</div>
<div class="fDVS dit" style="top:1145.24px;font-size:11px;right:475.96px;text-align:right;">»</div>
<div class="fDVS num" style="top:1144.18px;font-size:12.5px;right:410.16px;text-align:right;">2.252</div>
<div class="fDVS num" style="top:1144.41px;font-size:12.5px;right:354.56px;text-align:right;">2.852</div>
<div class="fDVS num" style="top:1144.63px;font-size:12.5px;right:298.86px;text-align:right;">2.889</div>
<div class="fDVS num" style="top:1144.85px;font-size:12.5px;right:244.26px;text-align:right;">3.159</div>
<div class="fDVS num" style="top:1145.07px;font-size:12.5px;right:189.66px;text-align:right;">3.283</div>
<div class="fDVS num" style="top:1145.23px;font-size:12.5px;right:148.36px;text-align:right;">1.200</div>
<div class="fDVS num" style="top:1145.32px;font-size:12.5px;left:777.74px;width:600px;text-align:center;">800</div>
<div class="fDVS lab" style="top:1156.40px;left:124.77px;width:137.50px"><span class=lt>— Nitrate.</span><span class=ld>........................................</span></div>
<div class="fDVS num" style="top:1156.04px;font-size:12.5px;right:884.43px;text-align:right;">271</div>
<div class="fDVS num" style="top:1156.25px;font-size:12.5px;right:829.83px;text-align:right;">731</div>
<div class="fDVS num" style="top:1156.47px;font-size:12.5px;right:775.53px;text-align:right;">508</div>
<div class="fDVS num" style="top:1156.66px;font-size:12.5px;right:727.03px;text-align:right;">468</div>
<div class="fDVS num" style="top:1156.86px;font-size:12.5px;right:678.03px;text-align:right;">661</div>
<div class="fDVS num" style="top:1157.05px;font-size:12.5px;right:629.53px;text-align:right;">1.022</div>
<div class="fDVS num" style="top:1157.28px;font-size:12.5px;right:574.23px;text-align:right;">978</div>
<div class="fDVS num" style="top:1157.49px;font-size:12.5px;right:520.53px;text-align:right;">2.801</div>
<div class="fDVS num" style="top:1157.71px;font-size:12.5px;right:464.93px;text-align:right;">6.465</div>
<div class="fDVS num" style="top:1157.93px;font-size:12.5px;right:410.13px;text-align:right;">2.147</div>
<div class="fDVS num" style="top:1158.15px;font-size:12.5px;right:354.53px;text-align:right;">1.308</div>
<div class="fDVS num" style="top:1158.38px;font-size:12.5px;right:298.83px;text-align:right;">1.008</div>
<div class="fDVS num" style="top:1158.60px;font-size:12.5px;right:244.23px;text-align:right;">1.015</div>
<div class="fDVS num" style="top:1158.81px;font-size:12.5px;right:189.63px;text-align:right;">1.929</div>
<div class="fDVS num" style="top:1158.98px;font-size:12.5px;right:148.33px;text-align:right;">550</div>
<div class="fDVS num" style="top:1159.07px;font-size:12.5px;left:777.77px;width:600px;text-align:center;">440</div>
<div class="fDVS lab" style="top:1170.15px;left:124.79px;width:137.50px"><span class=lt>— Oxalate</span><span class=ld>........................................</span></div>
<div class="fDVS dit" style="top:1171.06px;font-size:11px;right:895.41px;text-align:right;">»</div>
<div class="fDVS dit" style="top:1171.28px;font-size:11px;right:840.81px;text-align:right;">»</div>
<div class="fDVS num" style="top:1170.22px;font-size:12.5px;right:775.51px;text-align:right;">4</div>
<div class="fDVS num" style="top:1170.41px;font-size:12.5px;right:727.01px;text-align:right;">6</div>
<div class="fDVS num" style="top:1170.61px;font-size:12.5px;right:678.01px;text-align:right;">30</div>
<div class="fDVS num" style="top:1170.80px;font-size:12.5px;right:629.51px;text-align:right;">18</div>
<div class="fDVS num" style="top:1171.02px;font-size:12.5px;right:574.21px;text-align:right;">5</div>
<div class="fDVS num" style="top:1171.24px;font-size:12.5px;right:520.51px;text-align:right;">28</div>
<div class="fDVS num" style="top:1171.46px;font-size:12.5px;right:464.91px;text-align:right;">58</div>
<div class="fDVS num" style="top:1171.68px;font-size:12.5px;right:410.11px;text-align:right;">84</div>
<div class="fDVS num" style="top:1171.90px;font-size:12.5px;right:354.51px;text-align:right;">142</div>
<div class="fDVS num" style="top:1172.13px;font-size:12.5px;right:298.81px;text-align:right;">38</div>
<div class="fDVS num" style="top:1172.34px;font-size:12.5px;right:244.21px;text-align:right;">64</div>
<div class="fDVS num" style="top:1172.56px;font-size:12.5px;right:189.61px;text-align:right;">68</div>
<div class="fDVS num" style="top:1172.73px;font-size:12.5px;right:148.31px;text-align:right;">2.700</div>
<div class="fDVS num" style="top:1172.82px;font-size:12.5px;left:777.79px;width:600px;text-align:center;">1.000</div>
<div class="fDVS lab" style="top:1183.89px;left:124.82px;width:137.50px"><span class=lt>— Permanganate. (4)</span></div>
<div class="fDVS dit" style="top:1185.03px;font-size:11px;right:840.78px;text-align:right;">»</div>
<div class="fDVS dit" style="top:1185.24px;font-size:11px;right:786.48px;text-align:right;">»</div>
<div class="fDVS dit" style="top:1185.44px;font-size:11px;right:737.98px;text-align:right;">»</div>
<div class="fDVS dit" style="top:1185.63px;font-size:11px;right:688.98px;text-align:right;">»</div>
<div class="fDVS num" style="top:1184.55px;font-size:12.5px;right:629.48px;text-align:right;">21</div>
<div class="fDVS num" style="top:1184.77px;font-size:12.5px;right:574.18px;text-align:right;">1,6</div>
<div class="fDVS dit" style="top:1186.26px;font-size:11px;right:531.48px;text-align:right;">»</div>
<div class="fDVS dit" style="top:1186.49px;font-size:11px;right:475.88px;text-align:right;">»</div>
<div class="fDVS dit" style="top:1186.71px;font-size:11px;right:421.08px;text-align:right;">»</div>
<div class="fDVS dit" style="top:1186.93px;font-size:11px;right:365.48px;text-align:right;">»</div>
<div class="fDVS dit" style="top:1187.15px;font-size:11px;right:309.78px;text-align:right;">»</div>
<div class="fDVS num" style="top:1186.09px;font-size:12.5px;right:244.18px;text-align:right;">163</div>
<div class="fDVS num" style="top:1186.31px;font-size:12.5px;right:189.58px;text-align:right;">25</div>
<div class="fDVS dit" style="top:1187.75px;font-size:11px;right:150.28px;text-align:right;">»</div>
<div class="fDVS num" style="top:1186.57px;font-size:12.5px;left:777.82px;width:600px;text-align:center;">1.300</div>
<div class="fDVS lab" style="top:1197.64px;left:124.84px;width:137.50px"><span class=lt>— Prussiate (5)</span><span class=ld>........................................</span></div>
<div class="fDVS num" style="top:1197.28px;font-size:12.5px;right:884.36px;text-align:right;">14</div>
<div class="fDVS num" style="top:1197.50px;font-size:12.5px;right:829.76px;text-align:right;">6</div>
<div class="fDVS num" style="top:1197.72px;font-size:12.5px;right:775.46px;text-align:right;">71</div>
<div class="fDVS num" style="top:1197.91px;font-size:12.5px;right:726.96px;text-align:right;">248</div>
<div class="fDVS num" style="top:1198.11px;font-size:12.5px;right:677.96px;text-align:right;">465</div>
<div class="fDVS num" style="top:1198.30px;font-size:12.5px;right:629.46px;text-align:right;">444</div>
<div class="fDVS num" style="top:1198.52px;font-size:12.5px;right:574.16px;text-align:right;">641</div>
<div class="fDVS num" style="top:1198.74px;font-size:12.5px;right:520.46px;text-align:right;">303</div>
<div class="fDVS num" style="top:1198.96px;font-size:12.5px;right:464.86px;text-align:right;">307</div>
<div class="fDVS num" style="top:1199.18px;font-size:12.5px;right:410.06px;text-align:right;">101</div>
<div class="fDVS num" style="top:1199.40px;font-size:12.5px;right:354.46px;text-align:right;">37</div>
<div class="fDVS num" style="top:1199.62px;font-size:12.5px;right:298.76px;text-align:right;">15</div>
<div class="fDVS num" style="top:1199.84px;font-size:12.5px;right:244.16px;text-align:right;">12</div>
<div class="fDVS num" style="top:1200.06px;font-size:12.5px;right:189.56px;text-align:right;">13</div>
<div class="fDVS num" style="top:1200.22px;font-size:12.5px;right:148.26px;text-align:right;">2.750</div>
<div class="fDVS num" style="top:1200.32px;font-size:12.5px;left:777.84px;width:600px;text-align:center;">1.550</div>
<div class="fDVS lab" style="top:1211.39px;left:124.86px;width:137.50px"><span class=lt>— Sulfate</span><span class=ld>........................................</span></div>
<div class="fDVS num" style="top:1211.03px;font-size:12.5px;right:884.34px;text-align:right;">711</div>
<div class="fDVS num" style="top:1211.25px;font-size:12.5px;right:829.74px;text-align:right;">794</div>
<div class="fDVS num" style="top:1211.46px;font-size:12.5px;right:775.44px;text-align:right;">603</div>
<div class="fDVS num" style="top:1211.66px;font-size:12.5px;right:726.94px;text-align:right;">321</div>
<div class="fDVS num" style="top:1211.85px;font-size:12.5px;right:677.94px;text-align:right;">276</div>
<div class="fDVS num" style="top:1212.05px;font-size:12.5px;right:629.44px;text-align:right;">525</div>
<div class="fDVS num" style="top:1212.27px;font-size:12.5px;right:574.14px;text-align:right;">334</div>
<div class="fDVS num" style="top:1212.48px;font-size:12.5px;right:520.44px;text-align:right;">197</div>
<div class="fDVS num" style="top:1212.71px;font-size:12.5px;right:464.84px;text-align:right;">203</div>
<div class="fDVS num" style="top:1212.92px;font-size:12.5px;right:410.04px;text-align:right;">1.618</div>
<div class="fDVS num" style="top:1213.15px;font-size:12.5px;right:354.44px;text-align:right;">2.887</div>
<div class="fDVS num" style="top:1213.37px;font-size:12.5px;right:298.74px;text-align:right;">2.419</div>
<div class="fDVS num" style="top:1213.59px;font-size:12.5px;right:244.14px;text-align:right;">4.297</div>
<div class="fDVS num" style="top:1213.81px;font-size:12.5px;right:189.54px;text-align:right;">4.833</div>
<div class="fDVS num" style="top:1213.97px;font-size:12.5px;right:148.24px;text-align:right;">600</div>
<div class="fDVS num" style="top:1214.06px;font-size:12.5px;left:777.86px;width:600px;text-align:center;">230</div>
<div class="fDVS lab" style="top:1225.14px;left:124.89px;width:137.50px"><span class=lt>— Tartre brut</span><span class=ld>........................................</span></div>
<div class="fDVS num" style="top:1224.78px;font-size:12.5px;right:884.31px;text-align:right;">1.969</div>
<div class="fDVS num" style="top:1224.99px;font-size:12.5px;right:829.71px;text-align:right;">5.077</div>
<div class="fDVS num" style="top:1225.21px;font-size:12.5px;right:775.41px;text-align:right;">3.056</div>
<div class="fDVS num" style="top:1225.41px;font-size:12.5px;right:726.91px;text-align:right;">4.390</div>
<div class="fDVS num" style="top:1225.60px;font-size:12.5px;right:677.91px;text-align:right;">4.217</div>
<div class="fDVS num" style="top:1225.80px;font-size:12.5px;right:629.41px;text-align:right;">5.589</div>
<div class="fDVS num" style="top:1226.02px;font-size:12.5px;right:574.11px;text-align:right;">6.545</div>
<div class="fDVS num" style="top:1226.23px;font-size:12.5px;right:520.41px;text-align:right;">408</div>
<div class="fDVS num" style="top:1226.45px;font-size:12.5px;right:464.81px;text-align:right;">1.984</div>
<div class="fDVS num" style="top:1226.67px;font-size:12.5px;right:410.01px;text-align:right;">1.420</div>
<div class="fDVS num" style="top:1226.90px;font-size:12.5px;right:354.41px;text-align:right;">1.282</div>
<div class="fDVS num" style="top:1227.12px;font-size:12.5px;right:298.71px;text-align:right;">2.192</div>
<div class="fDVS num" style="top:1227.34px;font-size:12.5px;right:244.11px;text-align:right;">2.045</div>
<div class="fDVS num" style="top:1227.55px;font-size:12.5px;right:189.51px;text-align:right;">2.503</div>
<div class="fDVS num" style="top:1227.72px;font-size:12.5px;right:148.21px;text-align:right;">1.000</div>
<div class="fDVS num" style="top:1227.81px;font-size:12.5px;left:777.89px;width:600px;text-align:center;">1.500</div>
<div class="fDVS lab" style="top:1238.89px;left:124.91px;width:137.50px"><span class=lt>— Crème tartre</span><span class=ld>........................................</span></div>
<div class="fDVS num" style="top:1238.52px;font-size:12.5px;right:884.29px;text-align:right;">1.723</div>
<div class="fDVS num" style="top:1238.74px;font-size:12.5px;right:829.69px;text-align:right;">936</div>
<div class="fDVS num" style="top:1238.96px;font-size:12.5px;right:775.39px;text-align:right;">1.689</div>
<div class="fDVS num" style="top:1239.15px;font-size:12.5px;right:726.89px;text-align:right;">3.021</div>
<div class="fDVS num" style="top:1239.35px;font-size:12.5px;right:677.89px;text-align:right;">2.798</div>
<div class="fDVS num" style="top:1239.54px;font-size:12.5px;right:629.39px;text-align:right;">3.601</div>
<div class="fDVS num" style="top:1239.76px;font-size:12.5px;right:574.09px;text-align:right;">3.535</div>
<div class="fDVS dit" style="top:1241.26px;font-size:11px;right:531.39px;text-align:right;">»</div>
<div class="fDVS num" style="top:1240.20px;font-size:12.5px;right:464.79px;text-align:right;">36</div>
<div class="fDVS num" style="top:1240.42px;font-size:12.5px;right:409.99px;text-align:right;">25</div>
<div class="fDVS num" style="top:1240.64px;font-size:12.5px;right:354.39px;text-align:right;">175</div>
<div class="fDVS num" style="top:1240.87px;font-size:12.5px;right:298.69px;text-align:right;">290</div>
<div class="fDVS num" style="top:1241.08px;font-size:12.5px;right:244.09px;text-align:right;">181</div>
<div class="fDVS num" style="top:1241.30px;font-size:12.5px;right:189.49px;text-align:right;">87</div>
<div class="fDVS num" style="top:1241.47px;font-size:12.5px;right:148.19px;text-align:right;">4.000</div>
<div class="fDVS num" style="top:1241.56px;font-size:12.5px;left:777.91px;width:600px;text-align:center;">1.900</div>
<div class="fDVS lab" style="top:1252.63px;left:124.93px;width:137.50px"><span class=lt><b>Sodium</b>. Acétate</span><span class=ld>........................................</span></div>
<div class="fDVS num" style="top:1252.27px;font-size:12.5px;right:884.27px;text-align:right;">63</div>
<div class="fDVS num" style="top:1252.49px;font-size:12.5px;right:829.67px;text-align:right;">520</div>
<div class="fDVS num" style="top:1252.71px;font-size:12.5px;right:775.37px;text-align:right;">929</div>
<div class="fDVS num" style="top:1252.90px;font-size:12.5px;right:726.87px;text-align:right;">621</div>
<div class="fDVS num" style="top:1253.10px;font-size:12.5px;right:677.87px;text-align:right;">845</div>
<div class="fDVS num" style="top:1253.29px;font-size:12.5px;right:629.37px;text-align:right;">540</div>
<div class="fDVS num" style="top:1253.51px;font-size:12.5px;right:574.07px;text-align:right;">364</div>
<div class="fDVS dit" style="top:1255.00px;font-size:11px;right:531.37px;text-align:right;">»</div>
<div class="fDVS dit" style="top:1255.23px;font-size:11px;right:475.77px;text-align:right;">»</div>
<div class="fDVS num" style="top:1254.17px;font-size:12.5px;right:409.97px;text-align:right;">3</div>
<div class="fDVS dit" style="top:1255.67px;font-size:11px;right:365.37px;text-align:right;">»</div>
<div class="fDVS dit" style="top:1255.89px;font-size:11px;right:309.67px;text-align:right;">»</div>
<div class="fDVS dit" style="top:1256.11px;font-size:11px;right:255.07px;text-align:right;">»</div>
<div class="fDVS dit" style="top:1256.33px;font-size:11px;right:200.47px;text-align:right;">»</div>
<div class="fDVS num" style="top:1255.22px;font-size:12.5px;right:148.17px;text-align:right;">3.000</div>
<div class="fDVS num" style="top:1255.31px;font-size:12.5px;left:777.93px;width:600px;text-align:center;">300</div>
<div class="fDVS lab" style="top:1266.38px;left:124.96px;width:137.50px"><span class=lt>— Bicarbonate</span><span class=ld>........................................</span></div>
<div class="fDVS dit" style="top:1267.30px;font-size:11px;right:895.24px;text-align:right;">»</div>
<div class="fDVS num" style="top:1266.24px;font-size:12.5px;right:829.64px;text-align:right;">94</div>
<div class="fDVS num" style="top:1266.46px;font-size:12.5px;right:775.34px;text-align:right;">96</div>
<div class="fDVS num" style="top:1266.65px;font-size:12.5px;right:726.84px;text-align:right;">78</div>
<div class="fDVS num" style="top:1266.85px;font-size:12.5px;right:677.84px;text-align:right;">55</div>
<div class="fDVS num" style="left:553.16px;top:1264.80px;width:20px;height:14px;font-size:12.5px;line-height:14px;text-align:center;transform:rotate(-90deg);transform-origin:50% 50%">87</div>
<div class="fDVS num" style="top:1267.26px;font-size:12.5px;right:574.04px;text-align:right;">116</div>
<div class="fDVS num" style="top:1267.48px;font-size:12.5px;right:520.34px;text-align:right;">239</div>
<div class="fDVS num" style="top:1267.70px;font-size:12.5px;right:464.74px;text-align:right;">350</div>
<div class="fDVS num" style="top:1267.92px;font-size:12.5px;right:409.94px;text-align:right;">605</div>
<div class="fDVS num" style="top:1268.14px;font-size:12.5px;right:354.34px;text-align:right;">1.371</div>
<div class="fDVS num" style="top:1268.36px;font-size:12.5px;right:298.64px;text-align:right;">1.528</div>
<div class="fDVS num" style="top:1268.58px;font-size:12.5px;right:244.04px;text-align:right;">863</div>
<div class="fDVS num" style="top:1268.80px;font-size:12.5px;right:189.44px;text-align:right;">513</div>
<div class="fDVS dit" style="top:1270.24px;font-size:11px;right:150.14px;text-align:right;">»</div>
<div class="fDVS num" style="top:1269.06px;font-size:12.5px;left:777.96px;width:600px;text-align:center;">220</div>
<div class="fDVS lab" style="top:1280.13px;left:124.98px;width:137.50px"><span class=lt>— Borax (6)</span><span class=ld>........................................</span></div>
<div class="fDVS num" style="top:1279.77px;font-size:12.5px;right:884.22px;text-align:right;">106</div>
<div class="fDVS num" style="top:1279.99px;font-size:12.5px;right:829.62px;text-align:right;">345</div>
<div class="fDVS num" style="top:1280.20px;font-size:12.5px;right:775.32px;text-align:right;">360</div>
<div class="fDVS num" style="top:1280.40px;font-size:12.5px;right:726.82px;text-align:right;">555</div>
<div class="fDVS num" style="top:1280.59px;font-size:12.5px;right:677.82px;text-align:right;">775</div>
<div class="fDVS num" style="top:1280.79px;font-size:12.5px;right:629.32px;text-align:right;">849</div>
<div class="fDVS num" style="top:1281.01px;font-size:12.5px;right:574.02px;text-align:right;">535</div>
<div class="fDVS dit" style="top:1282.50px;font-size:11px;right:531.32px;text-align:right;">»</div>
<div class="fDVS dit" style="top:1282.72px;font-size:11px;right:475.72px;text-align:right;">»</div>
<div class="fDVS num" style="top:1281.67px;font-size:12.5px;right:409.92px;text-align:right;">511</div>
<div class="fDVS num" style="top:1281.89px;font-size:12.5px;right:354.32px;text-align:right;">263</div>
<div class="fDVS num" style="top:1282.11px;font-size:12.5px;right:298.62px;text-align:right;">139</div>
<div class="fDVS num" style="top:1282.33px;font-size:12.5px;right:244.02px;text-align:right;">123</div>
<div class="fDVS num" style="top:1282.55px;font-size:12.5px;right:189.42px;text-align:right;">110</div>
<div class="fDVS num" style="top:1282.71px;font-size:12.5px;right:148.12px;text-align:right;">1.500</div>
<div class="fDVS num" style="top:1282.80px;font-size:12.5px;left:777.98px;width:600px;text-align:center;">450</div>
<div class="fDVS lab" style="top:1293.88px;left:125.00px;width:137.50px"><span class=lt>— Chlorate (8)</span><span class=ld>........................................</span></div>
<div class="fDVS dit" style="top:1294.79px;font-size:11px;right:895.20px;text-align:right;">»</div>
<div class="fDVS dit" style="top:1295.01px;font-size:11px;right:840.60px;text-align:right;">«</div>
<div class="fDVS num" style="top:1293.95px;font-size:12.5px;right:775.30px;text-align:right;">251</div>
<div class="fDVS num" style="top:1294.15px;font-size:12.5px;right:726.80px;text-align:right;">586</div>
<div class="fDVS num" style="top:1294.34px;font-size:12.5px;right:677.80px;text-align:right;">782</div>
<div class="fDVS num" style="top:1294.54px;font-size:12.5px;right:629.30px;text-align:right;">870</div>
<div class="fDVS num" style="top:1294.76px;font-size:12.5px;right:574.00px;text-align:right;">605</div>
<div class="fDVS dit" style="top:1296.25px;font-size:11px;right:531.30px;text-align:right;">»</div>
<div class="fDVS dit" style="top:1296.47px;font-size:11px;right:475.70px;text-align:right;">»</div>
<div class="fDVS num" style="top:1295.41px;font-size:12.5px;right:409.90px;text-align:right;">2</div>
<div class="fDVS dit" style="top:1296.91px;font-size:11px;right:365.30px;text-align:right;">»</div>
<div class="fDVS dit" style="top:1297.14px;font-size:11px;right:309.60px;text-align:right;">»</div>
<div class="fDVS dit" style="top:1297.35px;font-size:11px;right:255.00px;text-align:right;">»</div>
<div class="fDVS dit" style="top:1297.57px;font-size:11px;right:200.40px;text-align:right;">»</div>
<div class="fDVS dit" style="top:1297.74px;font-size:11px;right:150.10px;text-align:right;">»</div>
<div class="fDVS num" style="top:1296.55px;font-size:12.5px;left:778.00px;width:600px;text-align:center;">1.500</div>
<div class="fDVS lab" style="top:1307.63px;left:125.03px;width:137.50px"><span class=lt>— Hyposulfite</span><span class=ld>........................................</span></div>
<div class="fDVS dit" style="top:1308.54px;font-size:11px;right:895.17px;text-align:right;">»</div>
<div class="fDVS dit" style="top:1308.76px;font-size:11px;right:840.57px;text-align:right;">«</div>
<div class="fDVS num" style="top:1307.70px;font-size:12.5px;right:775.27px;text-align:right;">18</div>
<div class="fDVS num" style="top:1307.89px;font-size:12.5px;right:726.77px;text-align:right;">15</div>
<div class="fDVS num" style="top:1308.09px;font-size:12.5px;right:677.77px;text-align:right;">25</div>
<div class="fDVS num" style="top:1308.28px;font-size:12.5px;right:629.27px;text-align:right;">25</div>
<div class="fDVS num" style="top:1308.51px;font-size:12.5px;right:573.97px;text-align:right;">65</div>
<div class="fDVS dit" style="top:1310.00px;font-size:11px;right:531.27px;text-align:right;">»</div>
<div class="fDVS dit" style="top:1310.22px;font-size:11px;right:475.67px;text-align:right;">»</div>
<div class="fDVS num" style="top:1309.16px;font-size:12.5px;right:409.87px;text-align:right;">9</div>
<div class="fDVS num" style="top:1309.38px;font-size:12.5px;right:354.27px;text-align:right;">38</div>
<div class="fDVS dit" style="top:1310.88px;font-size:11px;right:309.57px;text-align:right;">»</div>
<div class="fDVS dit" style="top:1311.10px;font-size:11px;right:254.97px;text-align:right;">»</div>
<div class="fDVS dit" style="top:1311.32px;font-size:11px;right:200.37px;text-align:right;">»</div>
<div class="fDVS dit" style="top:1311.49px;font-size:11px;right:150.07px;text-align:right;">»</div>
<div class="fDVS num" style="top:1310.30px;font-size:12.5px;left:778.03px;width:600px;text-align:center;">200</div>
<div class="fDVS lab" style="top:1321.37px;left:125.05px;width:137.50px"><span class=lt>— Nitrate</span><span class=ld>........................................</span></div>
<div class="fDVS num" style="top:1321.01px;font-size:12.5px;right:884.15px;text-align:right;">2.201</div>
<div class="fDVS num" style="top:1321.23px;font-size:12.5px;right:829.55px;text-align:right;">9.436</div>
<div class="fDVS num" style="top:1321.45px;font-size:12.5px;right:775.25px;text-align:right;">7.228</div>
<div class="fDVS num" style="top:1321.64px;font-size:12.5px;right:726.75px;text-align:right;">4.544</div>
<div class="fDVS num" style="top:1321.84px;font-size:12.5px;right:677.75px;text-align:right;">4.256</div>
<div class="fDVS num" style="top:1322.03px;font-size:12.5px;right:629.25px;text-align:right;">6.348</div>
<div class="fDVS num" style="top:1322.25px;font-size:12.5px;right:573.95px;text-align:right;">5.606</div>
<div class="fDVS num" style="top:1322.47px;font-size:12.5px;right:520.25px;text-align:right;">30.577</div>
<div class="fDVS num" style="top:1322.69px;font-size:12.5px;right:464.65px;text-align:right;">61.888</div>
<div class="fDVS num" style="top:1322.91px;font-size:12.5px;right:409.85px;text-align:right;">175.570</div>
<div class="fDVS num" style="top:1323.13px;font-size:12.5px;right:354.25px;text-align:right;">202.634</div>
<div class="fDVS num" style="top:1323.35px;font-size:12.5px;right:298.55px;text-align:right;">222.957</div>
<div class="fDVS num" style="top:1323.57px;font-size:12.5px;right:243.95px;text-align:right;">261.388</div>
<div class="fDVS num" style="top:1323.79px;font-size:12.5px;right:189.35px;text-align:right;">285.612</div>
<div class="fDVS num" style="top:1323.96px;font-size:12.5px;right:148.05px;text-align:right;">280</div>
<div class="fDVS num" style="top:1324.05px;font-size:12.5px;left:778.05px;width:600px;text-align:center;">180</div>
<div class="fDVS lab" style="top:1335.12px;left:125.08px;width:137.50px"><span class=lt>— Sels (2)</span><span class=ld>........................................</span></div>
<div class="fDVS num" style="top:1334.76px;font-size:12.5px;right:884.12px;text-align:right;">358</div>
<div class="fDVS num" style="top:1334.98px;font-size:12.5px;right:829.52px;text-align:right;">110</div>
<div class="fDVS num" style="top:1335.20px;font-size:12.5px;right:775.22px;text-align:right;">1.242</div>
<div class="fDVS num" style="top:1335.39px;font-size:12.5px;right:726.72px;text-align:right;">3.403</div>
<div class="fDVS num" style="top:1335.59px;font-size:12.5px;right:677.72px;text-align:right;">1.092</div>
<div class="fDVS num" style="top:1335.78px;font-size:12.5px;right:629.22px;text-align:right;">264</div>
<div class="fDVS num" style="top:1336.00px;font-size:12.5px;right:573.92px;text-align:right;">732</div>
<div class="fDVS num" style="top:1336.22px;font-size:12.5px;right:520.22px;text-align:right;">323</div>
<div class="fDVS num" style="top:1336.44px;font-size:12.5px;right:464.62px;text-align:right;">344</div>
<div class="fDVS num" style="top:1336.66px;font-size:12.5px;right:409.82px;text-align:right;">335</div>
<div class="fDVS num" style="top:1336.88px;font-size:12.5px;right:354.22px;text-align:right;">389</div>
<div class="fDVS num" style="top:1337.10px;font-size:12.5px;right:298.52px;text-align:right;">437</div>
<div class="fDVS num" style="top:1337.32px;font-size:12.5px;right:243.92px;text-align:right;">349</div>
<div class="fDVS num" style="top:1337.54px;font-size:12.5px;right:189.32px;text-align:right;">472</div>
<div class="fDVS dit" style="top:1338.98px;font-size:11px;right:150.02px;text-align:right;">»</div>
<div class="fDVS num" style="top:1337.80px;font-size:12.5px;left:778.08px;width:600px;text-align:center;">200</div>
<div class="fDVS lab" style="top:1348.87px;left:125.10px;width:137.50px"><span class=lt>— Silicate (8)</span><span class=ld>........................................</span></div>
<div class="fDVS dit" style="top:1349.79px;font-size:11px;right:895.10px;text-align:right;">»</div>
<div class="fDVS dit" style="top:1350.00px;font-size:11px;right:840.50px;text-align:right;">»</div>
<div class="fDVS num" style="top:1348.94px;font-size:12.5px;right:775.20px;text-align:right;">390</div>
<div class="fDVS num" style="top:1349.14px;font-size:12.5px;right:726.70px;text-align:right;">297</div>
<div class="fDVS num" style="top:1349.33px;font-size:12.5px;right:677.70px;text-align:right;">300</div>
<div class="fDVS num" style="top:1349.53px;font-size:12.5px;right:629.20px;text-align:right;">507</div>
<div class="fDVS num" style="top:1349.75px;font-size:12.5px;right:573.90px;text-align:right;">505</div>
<div class="fDVS num" style="top:1349.96px;font-size:12.5px;right:520.20px;text-align:right;">108</div>
<div class="fDVS num" style="top:1350.19px;font-size:12.5px;right:464.60px;text-align:right;">287</div>
<div class="fDVS num" style="top:1350.41px;font-size:12.5px;right:409.80px;text-align:right;">169</div>
<div class="fDVS num" style="top:1350.63px;font-size:12.5px;right:354.20px;text-align:right;">289</div>
<div class="fDVS num" style="top:1350.85px;font-size:12.5px;right:298.50px;text-align:right;">191</div>
<div class="fDVS num" style="top:1351.07px;font-size:12.5px;right:243.90px;text-align:right;">149</div>
<div class="fDVS num" style="top:1351.29px;font-size:12.5px;right:189.30px;text-align:right;">95</div>
<div class="fDVS dit" style="top:1352.73px;font-size:11px;right:150.00px;text-align:right;">»</div>
<div class="fDVS num" style="top:1351.54px;font-size:12.5px;left:778.10px;width:600px;text-align:center;">120</div>
<div class="fDVS lab" style="top:1362.62px;left:125.12px;width:137.50px"><span class=lt>— Sulfate</span><span class=ld>........................................</span></div>
<div class="fDVS num" style="top:1362.26px;font-size:12.5px;right:884.08px;text-align:right;">1.383</div>
<div class="fDVS num" style="top:1362.48px;font-size:12.5px;right:829.48px;text-align:right;">8.931</div>
<div class="fDVS num" style="top:1362.69px;font-size:12.5px;right:775.18px;text-align:right;">15.014</div>
<div class="fDVS num" style="top:1362.89px;font-size:12.5px;right:726.68px;text-align:right;">19.482</div>
<div class="fDVS num" style="top:1363.08px;font-size:12.5px;right:677.68px;text-align:right;">18.827</div>
<div class="fDVS num" style="top:1363.28px;font-size:12.5px;right:629.18px;text-align:right;">20.111</div>
<div class="fDVS num" style="top:1363.50px;font-size:12.5px;right:573.88px;text-align:right;">18.098</div>
<div class="fDVS num" style="top:1363.71px;font-size:12.5px;right:520.18px;text-align:right;">528</div>
<div class="fDVS num" style="top:1363.93px;font-size:12.5px;right:464.58px;text-align:right;">407</div>
<div class="fDVS num" style="top:1364.15px;font-size:12.5px;right:409.78px;text-align:right;">675</div>
<div class="fDVS num" style="top:1364.38px;font-size:12.5px;right:354.18px;text-align:right;">167</div>
<div class="fDVS num" style="top:1364.60px;font-size:12.5px;right:298.48px;text-align:right;">177</div>
<div class="fDVS num" style="top:1364.82px;font-size:12.5px;right:243.88px;text-align:right;">144</div>
<div class="fDVS num" style="top:1365.04px;font-size:12.5px;right:189.28px;text-align:right;">264</div>
<div class="fDVS num" style="top:1365.20px;font-size:12.5px;right:147.98px;text-align:right;">100</div>
<div class="fDVS num" style="top:1365.29px;font-size:12.5px;right:111.88px;text-align:right;">50</div>
<div class="fDVS lab" style="top:1376.37px;left:125.15px;width:137.50px"><span class=lt>— Sulfites et bi-</span><span class=ld>........................................</span></div>
<div class="fDVS dit" style="top:1377.28px;font-size:11px;right:895.05px;text-align:right;">»</div>
<div class="fDVS dit" style="top:1377.50px;font-size:11px;right:840.45px;text-align:right;">»</div>
<div class="fDVS num" style="top:1376.44px;font-size:12.5px;right:775.15px;text-align:right;">10</div>
<div class="fDVS dit" style="top:1377.91px;font-size:11px;right:737.65px;text-align:right;">«</div>
<div class="fDVS dit" style="top:1378.11px;font-size:11px;right:688.65px;text-align:right;">»</div>
<div class="fDVS dit" style="top:1378.30px;font-size:11px;right:640.15px;text-align:right;">»</div>
<div class="fDVS dit" style="top:1378.52px;font-size:11px;right:584.85px;text-align:right;">»</div>
<div class="fDVS dit" style="top:1378.74px;font-size:11px;right:531.15px;text-align:right;">»</div>
<div class="fDVS dit" style="top:1378.96px;font-size:11px;right:475.55px;text-align:right;">»</div>
<div class="fDVS num" style="top:1377.90px;font-size:12.5px;right:409.75px;text-align:right;">39</div>
<div class="fDVS num" style="top:1378.12px;font-size:12.5px;right:354.15px;text-align:right;">57</div>
<div class="fDVS num" style="top:1378.35px;font-size:12.5px;right:298.45px;text-align:right;">68</div>
<div class="fDVS num" style="top:1378.57px;font-size:12.5px;right:243.85px;text-align:right;">63</div>
<div class="fDVS num" style="top:1378.78px;font-size:12.5px;right:189.25px;text-align:right;">124</div>
<div class="fDVS dit" style="top:1380.23px;font-size:11px;right:149.95px;text-align:right;">»</div>
<div class="fDVS num" style="top:1379.04px;font-size:12.5px;left:778.15px;width:600px;text-align:center;">150</div>
<div class="fDVS lab" style="top:1390.11px;left:125.17px;width:137.50px"><span class=lt><b>Zinc</b>. Oxyde</span><span class=ld>........................................</span></div>
<div class="fDVS num" style="top:1389.75px;font-size:12.5px;right:884.03px;text-align:right;">1.444</div>
<div class="fDVS num" style="top:1389.97px;font-size:12.5px;right:829.43px;text-align:right;">3.655</div>
<div class="fDVS num" style="top:1390.19px;font-size:12.5px;right:775.13px;text-align:right;">2.644</div>
<div class="fDVS num" style="top:1390.38px;font-size:12.5px;right:726.63px;text-align:right;">1.362</div>
<div class="fDVS num" style="top:1390.58px;font-size:12.5px;right:677.63px;text-align:right;">1.355</div>
<div class="fDVS num" style="top:1390.77px;font-size:12.5px;right:629.13px;text-align:right;">1.903</div>
<div class="fDVS num" style="top:1390.99px;font-size:12.5px;right:573.83px;text-align:right;">2.064</div>
<div class="fDVS num" style="top:1391.21px;font-size:12.5px;right:520.13px;text-align:right;">161</div>
<div class="fDVS num" style="top:1391.43px;font-size:12.5px;right:464.53px;text-align:right;">258</div>
<div class="fDVS num" style="top:1391.65px;font-size:12.5px;right:409.73px;text-align:right;">772</div>
<div class="fDVS num" style="top:1391.87px;font-size:12.5px;right:354.13px;text-align:right;">1.113</div>
<div class="fDVS num" style="top:1392.10px;font-size:12.5px;right:298.43px;text-align:right;">1.263</div>
<div class="fDVS num" style="top:1392.31px;font-size:12.5px;right:243.83px;text-align:right;">1.764</div>
<div class="fDVS num" style="top:1392.53px;font-size:12.5px;right:189.23px;text-align:right;">1.743</div>
<div class="fDVS num" style="top:1392.70px;font-size:12.5px;right:147.93px;text-align:right;">650</div>
<div class="fDVS num" style="top:1392.79px;font-size:12.5px;left:778.17px;width:600px;text-align:center;">580</div>
<div class="fDVS lab" style="top:1403.86px;left:125.19px;width:137.50px"><span class=lt>— Sulfate</span><span class=ld>........................................</span></div>
<div class="fDVS num" style="top:1403.50px;font-size:12.5px;right:884.01px;text-align:right;">41</div>
<div class="fDVS num" style="top:1403.72px;font-size:12.5px;right:829.41px;text-align:right;">54</div>
<div class="fDVS num" style="top:1403.94px;font-size:12.5px;right:775.11px;text-align:right;">51</div>
<div class="fDVS num" style="top:1404.13px;font-size:12.5px;right:726.61px;text-align:right;">31</div>
<div class="fDVS num" style="top:1404.33px;font-size:12.5px;right:677.61px;text-align:right;">33</div>
<div class="fDVS num" style="top:1404.52px;font-size:12.5px;right:629.11px;text-align:right;">23</div>
<div class="fDVS num" style="top:1404.74px;font-size:12.5px;right:573.81px;text-align:right;">12</div>
<div class="fDVS dit" style="top:1406.23px;font-size:11px;right:531.11px;text-align:right;">»</div>
<div class="fDVS dit" style="top:1406.46px;font-size:11px;right:475.51px;text-align:right;">»</div>
<div class="fDVS num" style="top:1405.40px;font-size:12.5px;right:409.71px;text-align:right;">26</div>
<div class="fDVS dit" style="top:1406.90px;font-size:11px;right:365.11px;text-align:right;">»</div>
<div class="fDVS dit" style="top:1407.12px;font-size:11px;right:309.41px;text-align:right;">»</div>
<div class="fDVS dit" style="top:1407.34px;font-size:11px;right:254.81px;text-align:right;">»</div>
<div class="fDVS dit" style="top:1407.56px;font-size:11px;right:200.21px;text-align:right;">»</div>
<div class="fDVS num" style="top:1406.45px;font-size:12.5px;right:147.91px;text-align:right;">190</div>
<div class="fDVS num" style="top:1406.54px;font-size:12.5px;left:778.19px;width:600px;text-align:center;">160</div>
<div class="fDVS fn" style="top:1447.64px;font-size:12.4px;left:142.60px;">(<span class=sc>A</span>) Le kilogramme.</div>
<div class="fDVS j fn" id="j47" style="top:1463.84px;left:142.60px;width:944.40px;font-size:12.4px;letter-spacing:0.588px;transform:rotate(0.13deg);transform-origin:0 50%">(1) Pur, et safre smalt ; azur. — (2) Non dénommés. — (3) Et iodoforme. — (4) Étaient compris antérieurement avec les produits chimiques. — (5) Et de</div>
<div class="fDVS j fn" id="j48" style="top:1479.44px;left:128.00px;width:959.00px;font-size:12.4px;transform:rotate(0.15deg);transform-origin:0 50%">soude. — (6) Brut et raffiné. — (7) Baryte et autres. — (8) Et de potasse. — (9) D’ammoniaque et de potasse et sulfate d’alumine. — (10) Antérieurement</div>
<div class="fDVS fn" style="top:1495.14px;font-size:12.4px;left:128.00px;">compris avec les aluns.</div>
<div class="fDVS j body" id="j49" style="top:1567.45px;left:175.00px;width:417.00px;font-size:18.5px;letter-spacing:0.753px;">Pour compléter la situation de l’industrie des</div>
<div class="fDVS j body" id="j50" style="top:1590.00px;left:153.80px;width:438.20px;font-size:18.5px;">produits chimiques minéraux en France, nous</div>
<div class="fDVS j body" id="j51" style="top:1612.55px;left:153.80px;width:438.20px;font-size:18.5px;letter-spacing:0.817px;">donnons le tableau suivant, extrait du mémoire</div>
<div class="fDVS j body" id="j52" style="top:1570.05px;left:621.70px;width:437.30px;font-size:18.5px;letter-spacing:0.891px;">de M. Guillet (<i>loc. cit.</i>) et que nous avons com-</div>
<div class="fDVS j body" id="j53" style="top:1593.15px;left:621.70px;width:437.30px;font-size:18.5px;letter-spacing:0.536px;">plété par la valeur des produits, d’après les esti-</div>
<div class="fDVS body" id="f54" style="top:1616.25px;font-size:18.5px;left:621.70px;transform:scaleX(0.9807);transform-origin:left center;">mations de la douane française. (E. V. D.)</div>
</body></html>
